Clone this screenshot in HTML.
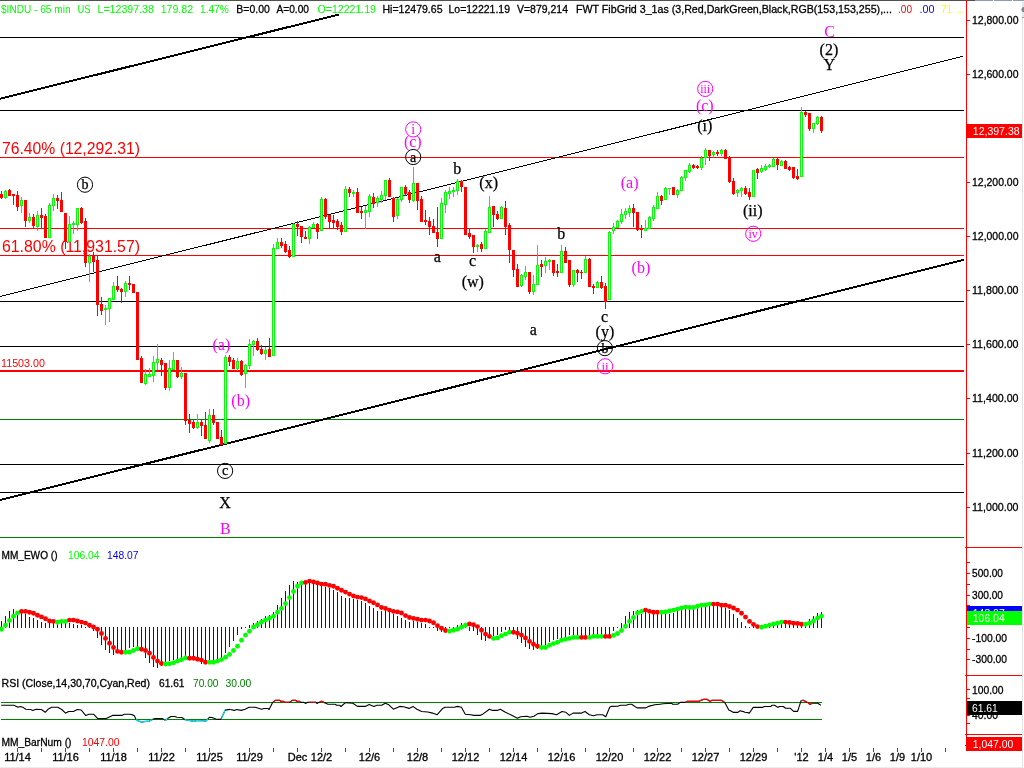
<!DOCTYPE html>
<html><head><meta charset="utf-8"><title>$INDU - 65 min</title>
<style>
html,body{margin:0;padding:0;background:#fff;}
body{width:1024px;height:768px;overflow:hidden;}
svg{display:block;}
</style></head>
<body>
<svg width="1024" height="768" viewBox="0 0 1024 768">
<defs>
<clipPath id="cpcyan"><rect x="136" y="690" width="16.5" height="40"/><rect x="164.5" y="690" width="3.0" height="40"/><rect x="184.7" y="690" width="23.5" height="40"/><rect x="221.3" y="690" width="4.0" height="40"/></clipPath>
<clipPath id="cpred"><rect x="272.8" y="690" width="16.19999999999999" height="40"/><rect x="291.8" y="690" width="8.5" height="40"/><rect x="309.2" y="690" width="6.800000000000011" height="40"/><rect x="320" y="690" width="4.5" height="40"/><rect x="685.5" y="690" width="39.0" height="40"/><rect x="801" y="690" width="11.899999999999977" height="40"/></clipPath>
<clipPath id="cpblue"><rect x="967" y="606" width="55" height="5"/></clipPath>
</defs>
<rect x="0" y="0" width="1024" height="768" fill="#fff"/>
<rect x="0" y="0" width="975" height="1" fill="#505050"/>
<rect x="975" y="0" width="18" height="1" fill="#8d9db0"/>
<rect x="994" y="0" width="18" height="1" fill="#8d9db0"/>
<rect x="1013" y="0" width="11" height="1" fill="#8d9db0"/>
<rect x="0" y="37" width="964" height="1" fill="#000"/>
<rect x="0" y="110" width="964" height="1" fill="#000"/>
<rect x="0" y="301" width="964" height="1" fill="#000"/>
<rect x="0" y="346" width="964" height="1" fill="#000"/>
<rect x="0" y="464" width="964" height="1" fill="#000"/>
<rect x="0" y="492" width="964" height="1" fill="#000"/>
<rect x="0" y="157" width="964" height="1" fill="#ff0000"/>
<rect x="0" y="228" width="964" height="1" fill="#ff0000"/>
<rect x="0" y="255" width="964" height="1" fill="#ff0000"/>
<rect x="0" y="370" width="964" height="2" fill="#ff0000"/>
<rect x="0" y="419" width="964" height="1" fill="#008000"/>
<rect x="0" y="537" width="964" height="1" fill="#008000"/>
<g shape-rendering="crispEdges" stroke="#000" fill="none">
<line x1="0" y1="296.5" x2="963" y2="56.3" stroke-width="1"/>
<line x1="0" y1="500" x2="964" y2="259.8" stroke-width="2"/>
<line x1="0" y1="98.7" x2="339" y2="14.5" stroke-width="2"/>
</g>
<text x="2" y="154" fill="#ff0000" style="font-family:'Liberation Sans',Arial,sans-serif;font-size:16px" textLength="138" lengthAdjust="spacingAndGlyphs">76.40% (12,292.31)</text>
<text x="2" y="252" fill="#ff0000" style="font-family:'Liberation Sans',Arial,sans-serif;font-size:16px" textLength="138" lengthAdjust="spacingAndGlyphs">61.80% (11,931.57)</text>
<text x="1" y="367" fill="#ff0000" style="font-family:'Liberation Sans',Arial,sans-serif;font-size:10.5px" textLength="44" lengthAdjust="spacingAndGlyphs">11503.00</text>
<g shape-rendering="crispEdges">
<rect x="1" y="191" width="1" height="3" fill="#ff0000"/>
<rect x="1" y="198" width="1" height="1" fill="#ff0000"/>
<rect x="0" y="194" width="3" height="4" fill="#ff0000"/>
<rect x="5" y="190" width="1" height="1" fill="#00ff00"/>
<rect x="5" y="198" width="1" height="1" fill="#00ff00"/>
<rect x="4" y="191" width="3" height="7" fill="#00ff00"/>
<rect x="5" y="192" width="1" height="5" fill="#fff"/>
<rect x="9" y="189" width="1" height="1" fill="#ff0000"/>
<rect x="8" y="190" width="3" height="6" fill="#ff0000"/>
<rect x="13" y="196" width="1" height="9" fill="#ff0000"/>
<rect x="12" y="194" width="3" height="2" fill="#ff0000"/>
<rect x="17" y="191" width="1" height="4" fill="#ff0000"/>
<rect x="17" y="207" width="1" height="4" fill="#ff0000"/>
<rect x="16" y="195" width="3" height="12" fill="#ff0000"/>
<rect x="21" y="197" width="1" height="3" fill="#00ff00"/>
<rect x="21" y="206" width="1" height="7" fill="#00ff00"/>
<rect x="20" y="200" width="3" height="6" fill="#00ff00"/>
<rect x="21" y="201" width="1" height="4" fill="#fff"/>
<rect x="25" y="221" width="1" height="6" fill="#ff0000"/>
<rect x="24" y="200" width="3" height="21" fill="#ff0000"/>
<rect x="29" y="213" width="1" height="4" fill="#00ff00"/>
<rect x="29" y="221" width="1" height="2" fill="#00ff00"/>
<rect x="28" y="217" width="3" height="4" fill="#00ff00"/>
<rect x="29" y="218" width="1" height="2" fill="#fff"/>
<rect x="33" y="214" width="1" height="3" fill="#ff0000"/>
<rect x="33" y="226" width="1" height="2" fill="#ff0000"/>
<rect x="32" y="217" width="3" height="9" fill="#ff0000"/>
<rect x="37" y="211" width="1" height="4" fill="#00ff00"/>
<rect x="37" y="227" width="1" height="4" fill="#00ff00"/>
<rect x="36" y="215" width="3" height="12" fill="#00ff00"/>
<rect x="37" y="216" width="1" height="10" fill="#fff"/>
<rect x="41" y="208" width="1" height="7" fill="#ff0000"/>
<rect x="41" y="218" width="1" height="11" fill="#ff0000"/>
<rect x="40" y="215" width="3" height="3" fill="#ff0000"/>
<rect x="45" y="214" width="1" height="2" fill="#ff0000"/>
<rect x="44" y="216" width="3" height="22" fill="#ff0000"/>
<rect x="49" y="203" width="1" height="2" fill="#00ff00"/>
<rect x="48" y="205" width="3" height="33" fill="#00ff00"/>
<rect x="49" y="206" width="1" height="31" fill="#fff"/>
<rect x="53" y="194" width="1" height="4" fill="#00ff00"/>
<rect x="53" y="206" width="1" height="5" fill="#00ff00"/>
<rect x="52" y="198" width="3" height="8" fill="#00ff00"/>
<rect x="53" y="199" width="1" height="6" fill="#fff"/>
<rect x="57" y="195" width="1" height="3" fill="#ff0000"/>
<rect x="57" y="201" width="1" height="8" fill="#ff0000"/>
<rect x="56" y="198" width="3" height="3" fill="#ff0000"/>
<rect x="61" y="192" width="1" height="8" fill="#ff0000"/>
<rect x="60" y="200" width="3" height="12" fill="#ff0000"/>
<rect x="65" y="242" width="1" height="7" fill="#ff0000"/>
<rect x="64" y="213" width="3" height="29" fill="#ff0000"/>
<rect x="69" y="216" width="1" height="8" fill="#00ff00"/>
<rect x="69" y="242" width="1" height="1" fill="#00ff00"/>
<rect x="68" y="224" width="3" height="18" fill="#00ff00"/>
<rect x="69" y="225" width="1" height="16" fill="#fff"/>
<rect x="73" y="221" width="1" height="2" fill="#00ff00"/>
<rect x="73" y="225" width="1" height="9" fill="#00ff00"/>
<rect x="72" y="223" width="3" height="2" fill="#00ff00"/>
<rect x="77" y="225" width="1" height="6" fill="#00ff00"/>
<rect x="76" y="208" width="3" height="17" fill="#00ff00"/>
<rect x="77" y="209" width="1" height="15" fill="#fff"/>
<rect x="81" y="207" width="1" height="1" fill="#ff0000"/>
<rect x="81" y="223" width="1" height="1" fill="#ff0000"/>
<rect x="80" y="208" width="3" height="15" fill="#ff0000"/>
<rect x="85" y="218" width="1" height="3" fill="#ff0000"/>
<rect x="85" y="263" width="1" height="4" fill="#ff0000"/>
<rect x="84" y="221" width="3" height="42" fill="#ff0000"/>
<rect x="89" y="254" width="1" height="2" fill="#00ff00"/>
<rect x="89" y="263" width="1" height="19" fill="#00ff00"/>
<rect x="88" y="256" width="3" height="7" fill="#00ff00"/>
<rect x="89" y="257" width="1" height="5" fill="#fff"/>
<rect x="93" y="252" width="1" height="4" fill="#ff0000"/>
<rect x="93" y="262" width="1" height="10" fill="#ff0000"/>
<rect x="92" y="256" width="3" height="6" fill="#ff0000"/>
<rect x="97" y="256" width="1" height="4" fill="#ff0000"/>
<rect x="97" y="305" width="1" height="11" fill="#ff0000"/>
<rect x="96" y="260" width="3" height="45" fill="#ff0000"/>
<rect x="101" y="297" width="1" height="7" fill="#ff0000"/>
<rect x="101" y="311" width="1" height="4" fill="#ff0000"/>
<rect x="100" y="304" width="3" height="7" fill="#ff0000"/>
<rect x="105" y="305" width="1" height="3" fill="#00ff00"/>
<rect x="105" y="310" width="1" height="15" fill="#00ff00"/>
<rect x="104" y="308" width="3" height="2" fill="#00ff00"/>
<rect x="109" y="309" width="1" height="13" fill="#00ff00"/>
<rect x="108" y="298" width="3" height="11" fill="#00ff00"/>
<rect x="109" y="299" width="1" height="9" fill="#fff"/>
<rect x="113" y="282" width="1" height="4" fill="#00ff00"/>
<rect x="112" y="286" width="3" height="14" fill="#00ff00"/>
<rect x="113" y="287" width="1" height="12" fill="#fff"/>
<rect x="117" y="276" width="1" height="10" fill="#ff0000"/>
<rect x="117" y="290" width="1" height="2" fill="#ff0000"/>
<rect x="116" y="286" width="3" height="4" fill="#ff0000"/>
<rect x="121" y="288" width="1" height="1" fill="#ff0000"/>
<rect x="121" y="292" width="1" height="11" fill="#ff0000"/>
<rect x="120" y="289" width="3" height="3" fill="#ff0000"/>
<rect x="125" y="281" width="1" height="2" fill="#00ff00"/>
<rect x="125" y="292" width="1" height="5" fill="#00ff00"/>
<rect x="124" y="283" width="3" height="9" fill="#00ff00"/>
<rect x="125" y="284" width="1" height="7" fill="#fff"/>
<rect x="129" y="276" width="1" height="7" fill="#ff0000"/>
<rect x="129" y="285" width="1" height="5" fill="#ff0000"/>
<rect x="128" y="283" width="3" height="2" fill="#ff0000"/>
<rect x="132" y="284" width="3" height="9" fill="#ff0000"/>
<rect x="136" y="292" width="3" height="68" fill="#ff0000"/>
<rect x="141" y="356" width="1" height="2" fill="#ff0000"/>
<rect x="140" y="358" width="3" height="25" fill="#ff0000"/>
<rect x="145" y="369" width="1" height="5" fill="#00ff00"/>
<rect x="145" y="384" width="1" height="1" fill="#00ff00"/>
<rect x="144" y="374" width="3" height="10" fill="#00ff00"/>
<rect x="145" y="375" width="1" height="8" fill="#fff"/>
<rect x="149" y="368" width="1" height="6" fill="#00ff00"/>
<rect x="148" y="374" width="3" height="3" fill="#00ff00"/>
<rect x="149" y="375" width="1" height="1" fill="#fff"/>
<rect x="153" y="356" width="1" height="6" fill="#00ff00"/>
<rect x="153" y="376" width="1" height="6" fill="#00ff00"/>
<rect x="152" y="362" width="3" height="14" fill="#00ff00"/>
<rect x="153" y="363" width="1" height="12" fill="#fff"/>
<rect x="157" y="344" width="1" height="15" fill="#00ff00"/>
<rect x="157" y="363" width="1" height="7" fill="#00ff00"/>
<rect x="156" y="359" width="3" height="4" fill="#00ff00"/>
<rect x="157" y="360" width="1" height="2" fill="#fff"/>
<rect x="161" y="358" width="1" height="2" fill="#ff0000"/>
<rect x="161" y="365" width="1" height="11" fill="#ff0000"/>
<rect x="160" y="360" width="3" height="5" fill="#ff0000"/>
<rect x="165" y="388" width="1" height="2" fill="#ff0000"/>
<rect x="164" y="363" width="3" height="25" fill="#ff0000"/>
<rect x="169" y="360" width="1" height="8" fill="#00ff00"/>
<rect x="169" y="388" width="1" height="3" fill="#00ff00"/>
<rect x="168" y="368" width="3" height="20" fill="#00ff00"/>
<rect x="169" y="369" width="1" height="18" fill="#fff"/>
<rect x="173" y="352" width="1" height="8" fill="#00ff00"/>
<rect x="172" y="360" width="3" height="10" fill="#00ff00"/>
<rect x="173" y="361" width="1" height="8" fill="#fff"/>
<rect x="177" y="377" width="1" height="1" fill="#ff0000"/>
<rect x="176" y="360" width="3" height="17" fill="#ff0000"/>
<rect x="181" y="367" width="1" height="6" fill="#00ff00"/>
<rect x="181" y="377" width="1" height="2" fill="#00ff00"/>
<rect x="180" y="373" width="3" height="4" fill="#00ff00"/>
<rect x="181" y="374" width="1" height="2" fill="#fff"/>
<rect x="185" y="421" width="1" height="4" fill="#ff0000"/>
<rect x="184" y="373" width="3" height="48" fill="#ff0000"/>
<rect x="189" y="414" width="1" height="6" fill="#ff0000"/>
<rect x="189" y="424" width="1" height="9" fill="#ff0000"/>
<rect x="188" y="420" width="3" height="4" fill="#ff0000"/>
<rect x="193" y="420" width="1" height="2" fill="#ff0000"/>
<rect x="193" y="428" width="1" height="1" fill="#ff0000"/>
<rect x="192" y="422" width="3" height="6" fill="#ff0000"/>
<rect x="197" y="414" width="1" height="8" fill="#00ff00"/>
<rect x="197" y="428" width="1" height="1" fill="#00ff00"/>
<rect x="196" y="422" width="3" height="6" fill="#00ff00"/>
<rect x="197" y="423" width="1" height="4" fill="#fff"/>
<rect x="201" y="420" width="1" height="2" fill="#ff0000"/>
<rect x="201" y="426" width="1" height="10" fill="#ff0000"/>
<rect x="200" y="422" width="3" height="4" fill="#ff0000"/>
<rect x="205" y="412" width="1" height="13" fill="#ff0000"/>
<rect x="204" y="425" width="3" height="14" fill="#ff0000"/>
<rect x="209" y="409" width="1" height="6" fill="#00ff00"/>
<rect x="209" y="441" width="1" height="2" fill="#00ff00"/>
<rect x="208" y="415" width="3" height="26" fill="#00ff00"/>
<rect x="209" y="416" width="1" height="24" fill="#fff"/>
<rect x="213" y="409" width="1" height="6" fill="#ff0000"/>
<rect x="213" y="423" width="1" height="2" fill="#ff0000"/>
<rect x="212" y="415" width="3" height="8" fill="#ff0000"/>
<rect x="216" y="422" width="3" height="17" fill="#ff0000"/>
<rect x="221" y="430" width="1" height="7" fill="#ff0000"/>
<rect x="220" y="437" width="3" height="8" fill="#ff0000"/>
<rect x="225" y="355" width="1" height="2" fill="#00ff00"/>
<rect x="224" y="357" width="3" height="87" fill="#00ff00"/>
<rect x="225" y="358" width="1" height="85" fill="#fff"/>
<rect x="229" y="355" width="1" height="2" fill="#ff0000"/>
<rect x="229" y="362" width="1" height="4" fill="#ff0000"/>
<rect x="228" y="357" width="3" height="5" fill="#ff0000"/>
<rect x="233" y="358" width="1" height="2" fill="#ff0000"/>
<rect x="232" y="360" width="3" height="9" fill="#ff0000"/>
<rect x="237" y="358" width="1" height="3" fill="#00ff00"/>
<rect x="237" y="369" width="1" height="2" fill="#00ff00"/>
<rect x="236" y="361" width="3" height="8" fill="#00ff00"/>
<rect x="237" y="362" width="1" height="6" fill="#fff"/>
<rect x="241" y="360" width="1" height="1" fill="#ff0000"/>
<rect x="241" y="375" width="1" height="1" fill="#ff0000"/>
<rect x="240" y="361" width="3" height="14" fill="#ff0000"/>
<rect x="245" y="364" width="1" height="1" fill="#00ff00"/>
<rect x="245" y="374" width="1" height="14" fill="#00ff00"/>
<rect x="244" y="365" width="3" height="9" fill="#00ff00"/>
<rect x="245" y="366" width="1" height="7" fill="#fff"/>
<rect x="249" y="339" width="1" height="5" fill="#00ff00"/>
<rect x="249" y="366" width="1" height="3" fill="#00ff00"/>
<rect x="248" y="344" width="3" height="22" fill="#00ff00"/>
<rect x="249" y="345" width="1" height="20" fill="#fff"/>
<rect x="253" y="340" width="1" height="1" fill="#00ff00"/>
<rect x="253" y="345" width="1" height="11" fill="#00ff00"/>
<rect x="252" y="341" width="3" height="4" fill="#00ff00"/>
<rect x="253" y="342" width="1" height="2" fill="#fff"/>
<rect x="257" y="338" width="1" height="3" fill="#ff0000"/>
<rect x="257" y="350" width="1" height="1" fill="#ff0000"/>
<rect x="256" y="341" width="3" height="9" fill="#ff0000"/>
<rect x="261" y="345" width="1" height="4" fill="#ff0000"/>
<rect x="261" y="354" width="1" height="1" fill="#ff0000"/>
<rect x="260" y="349" width="3" height="5" fill="#ff0000"/>
<rect x="265" y="347" width="1" height="3" fill="#00ff00"/>
<rect x="265" y="354" width="1" height="6" fill="#00ff00"/>
<rect x="264" y="350" width="3" height="4" fill="#00ff00"/>
<rect x="265" y="351" width="1" height="2" fill="#fff"/>
<rect x="269" y="338" width="1" height="11" fill="#ff0000"/>
<rect x="268" y="349" width="3" height="8" fill="#ff0000"/>
<rect x="273" y="244" width="1" height="4" fill="#00ff00"/>
<rect x="272" y="248" width="3" height="108" fill="#00ff00"/>
<rect x="273" y="249" width="1" height="106" fill="#fff"/>
<rect x="277" y="238" width="1" height="4" fill="#00ff00"/>
<rect x="276" y="242" width="3" height="7" fill="#00ff00"/>
<rect x="277" y="243" width="1" height="5" fill="#fff"/>
<rect x="281" y="238" width="1" height="4" fill="#ff0000"/>
<rect x="281" y="246" width="1" height="2" fill="#ff0000"/>
<rect x="280" y="242" width="3" height="4" fill="#ff0000"/>
<rect x="285" y="241" width="1" height="3" fill="#ff0000"/>
<rect x="285" y="252" width="1" height="1" fill="#ff0000"/>
<rect x="284" y="244" width="3" height="8" fill="#ff0000"/>
<rect x="289" y="246" width="1" height="4" fill="#ff0000"/>
<rect x="289" y="257" width="1" height="1" fill="#ff0000"/>
<rect x="288" y="250" width="3" height="7" fill="#ff0000"/>
<rect x="293" y="223" width="1" height="1" fill="#00ff00"/>
<rect x="292" y="224" width="3" height="33" fill="#00ff00"/>
<rect x="293" y="225" width="1" height="31" fill="#fff"/>
<rect x="297" y="221" width="1" height="3" fill="#ff0000"/>
<rect x="297" y="227" width="1" height="9" fill="#ff0000"/>
<rect x="296" y="224" width="3" height="3" fill="#ff0000"/>
<rect x="301" y="237" width="1" height="6" fill="#ff0000"/>
<rect x="300" y="226" width="3" height="11" fill="#ff0000"/>
<rect x="305" y="231" width="1" height="6" fill="#ff0000"/>
<rect x="304" y="237" width="3" height="2" fill="#ff0000"/>
<rect x="309" y="226" width="1" height="1" fill="#00ff00"/>
<rect x="309" y="239" width="1" height="5" fill="#00ff00"/>
<rect x="308" y="227" width="3" height="12" fill="#00ff00"/>
<rect x="309" y="228" width="1" height="10" fill="#fff"/>
<rect x="313" y="222" width="1" height="2" fill="#00ff00"/>
<rect x="312" y="224" width="3" height="4" fill="#00ff00"/>
<rect x="313" y="225" width="1" height="2" fill="#fff"/>
<rect x="317" y="223" width="1" height="1" fill="#ff0000"/>
<rect x="317" y="232" width="1" height="7" fill="#ff0000"/>
<rect x="316" y="224" width="3" height="8" fill="#ff0000"/>
<rect x="321" y="197" width="1" height="2" fill="#00ff00"/>
<rect x="320" y="199" width="3" height="32" fill="#00ff00"/>
<rect x="321" y="200" width="1" height="30" fill="#fff"/>
<rect x="325" y="198" width="1" height="1" fill="#ff0000"/>
<rect x="325" y="217" width="1" height="2" fill="#ff0000"/>
<rect x="324" y="199" width="3" height="18" fill="#ff0000"/>
<rect x="329" y="222" width="1" height="7" fill="#ff0000"/>
<rect x="328" y="215" width="3" height="7" fill="#ff0000"/>
<rect x="333" y="215" width="1" height="5" fill="#ff0000"/>
<rect x="333" y="223" width="1" height="6" fill="#ff0000"/>
<rect x="332" y="220" width="3" height="3" fill="#ff0000"/>
<rect x="337" y="219" width="1" height="2" fill="#ff0000"/>
<rect x="337" y="227" width="1" height="3" fill="#ff0000"/>
<rect x="336" y="221" width="3" height="6" fill="#ff0000"/>
<rect x="341" y="222" width="1" height="3" fill="#ff0000"/>
<rect x="341" y="232" width="1" height="3" fill="#ff0000"/>
<rect x="340" y="225" width="3" height="7" fill="#ff0000"/>
<rect x="345" y="186" width="1" height="3" fill="#00ff00"/>
<rect x="344" y="189" width="3" height="43" fill="#00ff00"/>
<rect x="345" y="190" width="1" height="41" fill="#fff"/>
<rect x="349" y="187" width="1" height="2" fill="#ff0000"/>
<rect x="349" y="193" width="1" height="4" fill="#ff0000"/>
<rect x="348" y="189" width="3" height="4" fill="#ff0000"/>
<rect x="353" y="190" width="1" height="2" fill="#00ff00"/>
<rect x="353" y="194" width="1" height="3" fill="#00ff00"/>
<rect x="352" y="192" width="3" height="2" fill="#00ff00"/>
<rect x="357" y="188" width="1" height="4" fill="#ff0000"/>
<rect x="356" y="192" width="3" height="21" fill="#ff0000"/>
<rect x="361" y="207" width="1" height="4" fill="#ff0000"/>
<rect x="361" y="213" width="1" height="6" fill="#ff0000"/>
<rect x="360" y="211" width="3" height="2" fill="#ff0000"/>
<rect x="365" y="206" width="1" height="4" fill="#00ff00"/>
<rect x="365" y="213" width="1" height="16" fill="#00ff00"/>
<rect x="364" y="210" width="3" height="3" fill="#00ff00"/>
<rect x="365" y="211" width="1" height="1" fill="#fff"/>
<rect x="369" y="194" width="1" height="2" fill="#00ff00"/>
<rect x="369" y="212" width="1" height="5" fill="#00ff00"/>
<rect x="368" y="196" width="3" height="16" fill="#00ff00"/>
<rect x="369" y="197" width="1" height="14" fill="#fff"/>
<rect x="373" y="193" width="1" height="4" fill="#ff0000"/>
<rect x="373" y="204" width="1" height="4" fill="#ff0000"/>
<rect x="372" y="197" width="3" height="7" fill="#ff0000"/>
<rect x="377" y="196" width="1" height="2" fill="#00ff00"/>
<rect x="377" y="203" width="1" height="4" fill="#00ff00"/>
<rect x="376" y="198" width="3" height="5" fill="#00ff00"/>
<rect x="377" y="199" width="1" height="3" fill="#fff"/>
<rect x="381" y="191" width="1" height="4" fill="#00ff00"/>
<rect x="381" y="200" width="1" height="3" fill="#00ff00"/>
<rect x="380" y="195" width="3" height="5" fill="#00ff00"/>
<rect x="381" y="196" width="1" height="3" fill="#fff"/>
<rect x="385" y="196" width="1" height="4" fill="#00ff00"/>
<rect x="384" y="180" width="3" height="16" fill="#00ff00"/>
<rect x="385" y="181" width="1" height="14" fill="#fff"/>
<rect x="389" y="178" width="1" height="2" fill="#ff0000"/>
<rect x="388" y="180" width="3" height="17" fill="#ff0000"/>
<rect x="393" y="197" width="1" height="1" fill="#ff0000"/>
<rect x="393" y="217" width="1" height="5" fill="#ff0000"/>
<rect x="392" y="198" width="3" height="19" fill="#ff0000"/>
<rect x="397" y="198" width="1" height="1" fill="#00ff00"/>
<rect x="397" y="216" width="1" height="3" fill="#00ff00"/>
<rect x="396" y="199" width="3" height="17" fill="#00ff00"/>
<rect x="397" y="200" width="1" height="15" fill="#fff"/>
<rect x="401" y="200" width="1" height="2" fill="#00ff00"/>
<rect x="400" y="187" width="3" height="13" fill="#00ff00"/>
<rect x="401" y="188" width="1" height="11" fill="#fff"/>
<rect x="405" y="185" width="1" height="2" fill="#ff0000"/>
<rect x="405" y="194" width="1" height="2" fill="#ff0000"/>
<rect x="404" y="187" width="3" height="7" fill="#ff0000"/>
<rect x="409" y="190" width="1" height="2" fill="#ff0000"/>
<rect x="409" y="200" width="1" height="3" fill="#ff0000"/>
<rect x="408" y="192" width="3" height="8" fill="#ff0000"/>
<rect x="413" y="167" width="1" height="16" fill="#00ff00"/>
<rect x="413" y="201" width="1" height="1" fill="#00ff00"/>
<rect x="412" y="183" width="3" height="18" fill="#00ff00"/>
<rect x="413" y="184" width="1" height="16" fill="#fff"/>
<rect x="417" y="201" width="1" height="9" fill="#ff0000"/>
<rect x="416" y="183" width="3" height="18" fill="#ff0000"/>
<rect x="421" y="196" width="1" height="3" fill="#ff0000"/>
<rect x="420" y="199" width="3" height="23" fill="#ff0000"/>
<rect x="425" y="210" width="1" height="10" fill="#ff0000"/>
<rect x="425" y="222" width="1" height="3" fill="#ff0000"/>
<rect x="424" y="220" width="3" height="2" fill="#ff0000"/>
<rect x="429" y="217" width="1" height="4" fill="#ff0000"/>
<rect x="429" y="227" width="1" height="8" fill="#ff0000"/>
<rect x="428" y="221" width="3" height="6" fill="#ff0000"/>
<rect x="433" y="219" width="1" height="7" fill="#ff0000"/>
<rect x="432" y="226" width="3" height="7" fill="#ff0000"/>
<rect x="437" y="207" width="1" height="25" fill="#ff0000"/>
<rect x="437" y="239" width="1" height="8" fill="#ff0000"/>
<rect x="436" y="232" width="3" height="7" fill="#ff0000"/>
<rect x="441" y="198" width="1" height="5" fill="#00ff00"/>
<rect x="440" y="203" width="3" height="36" fill="#00ff00"/>
<rect x="441" y="204" width="1" height="34" fill="#fff"/>
<rect x="445" y="190" width="1" height="2" fill="#00ff00"/>
<rect x="445" y="205" width="1" height="8" fill="#00ff00"/>
<rect x="444" y="192" width="3" height="13" fill="#00ff00"/>
<rect x="445" y="193" width="1" height="11" fill="#fff"/>
<rect x="449" y="187" width="1" height="4" fill="#00ff00"/>
<rect x="449" y="194" width="1" height="5" fill="#00ff00"/>
<rect x="448" y="191" width="3" height="3" fill="#00ff00"/>
<rect x="449" y="192" width="1" height="1" fill="#fff"/>
<rect x="453" y="187" width="1" height="3" fill="#00ff00"/>
<rect x="453" y="192" width="1" height="5" fill="#00ff00"/>
<rect x="452" y="190" width="3" height="2" fill="#00ff00"/>
<rect x="457" y="179" width="1" height="2" fill="#00ff00"/>
<rect x="457" y="191" width="1" height="4" fill="#00ff00"/>
<rect x="456" y="181" width="3" height="10" fill="#00ff00"/>
<rect x="457" y="182" width="1" height="8" fill="#fff"/>
<rect x="461" y="180" width="1" height="1" fill="#ff0000"/>
<rect x="461" y="187" width="1" height="5" fill="#ff0000"/>
<rect x="460" y="181" width="3" height="6" fill="#ff0000"/>
<rect x="464" y="187" width="3" height="48" fill="#ff0000"/>
<rect x="469" y="229" width="1" height="4" fill="#ff0000"/>
<rect x="469" y="237" width="1" height="2" fill="#ff0000"/>
<rect x="468" y="233" width="3" height="4" fill="#ff0000"/>
<rect x="473" y="247" width="1" height="6" fill="#ff0000"/>
<rect x="472" y="235" width="3" height="12" fill="#ff0000"/>
<rect x="477" y="244" width="1" height="1" fill="#00ff00"/>
<rect x="477" y="247" width="1" height="5" fill="#00ff00"/>
<rect x="476" y="245" width="3" height="2" fill="#00ff00"/>
<rect x="481" y="242" width="1" height="2" fill="#ff0000"/>
<rect x="481" y="249" width="1" height="3" fill="#ff0000"/>
<rect x="480" y="244" width="3" height="5" fill="#ff0000"/>
<rect x="485" y="229" width="1" height="2" fill="#00ff00"/>
<rect x="484" y="231" width="3" height="18" fill="#00ff00"/>
<rect x="485" y="232" width="1" height="16" fill="#fff"/>
<rect x="489" y="196" width="1" height="11" fill="#00ff00"/>
<rect x="488" y="207" width="3" height="26" fill="#00ff00"/>
<rect x="489" y="208" width="1" height="24" fill="#fff"/>
<rect x="493" y="215" width="1" height="12" fill="#ff0000"/>
<rect x="492" y="206" width="3" height="9" fill="#ff0000"/>
<rect x="497" y="211" width="1" height="3" fill="#ff0000"/>
<rect x="497" y="219" width="1" height="1" fill="#ff0000"/>
<rect x="496" y="214" width="3" height="5" fill="#ff0000"/>
<rect x="501" y="206" width="1" height="1" fill="#00ff00"/>
<rect x="500" y="207" width="3" height="12" fill="#00ff00"/>
<rect x="501" y="208" width="1" height="10" fill="#fff"/>
<rect x="505" y="201" width="1" height="7" fill="#ff0000"/>
<rect x="505" y="227" width="1" height="8" fill="#ff0000"/>
<rect x="504" y="208" width="3" height="19" fill="#ff0000"/>
<rect x="509" y="223" width="1" height="2" fill="#ff0000"/>
<rect x="509" y="250" width="1" height="13" fill="#ff0000"/>
<rect x="508" y="225" width="3" height="25" fill="#ff0000"/>
<rect x="513" y="270" width="1" height="7" fill="#ff0000"/>
<rect x="512" y="250" width="3" height="20" fill="#ff0000"/>
<rect x="517" y="264" width="1" height="5" fill="#ff0000"/>
<rect x="516" y="269" width="3" height="18" fill="#ff0000"/>
<rect x="521" y="274" width="1" height="1" fill="#00ff00"/>
<rect x="521" y="286" width="1" height="1" fill="#00ff00"/>
<rect x="520" y="275" width="3" height="11" fill="#00ff00"/>
<rect x="521" y="276" width="1" height="9" fill="#fff"/>
<rect x="525" y="266" width="1" height="6" fill="#00ff00"/>
<rect x="525" y="277" width="1" height="3" fill="#00ff00"/>
<rect x="524" y="272" width="3" height="5" fill="#00ff00"/>
<rect x="525" y="273" width="1" height="3" fill="#fff"/>
<rect x="529" y="292" width="1" height="2" fill="#ff0000"/>
<rect x="528" y="272" width="3" height="20" fill="#ff0000"/>
<rect x="533" y="275" width="1" height="9" fill="#00ff00"/>
<rect x="533" y="292" width="1" height="3" fill="#00ff00"/>
<rect x="532" y="284" width="3" height="8" fill="#00ff00"/>
<rect x="533" y="285" width="1" height="6" fill="#fff"/>
<rect x="537" y="245" width="1" height="20" fill="#00ff00"/>
<rect x="536" y="265" width="3" height="20" fill="#00ff00"/>
<rect x="537" y="266" width="1" height="18" fill="#fff"/>
<rect x="541" y="260" width="1" height="4" fill="#ff0000"/>
<rect x="541" y="267" width="1" height="10" fill="#ff0000"/>
<rect x="540" y="264" width="3" height="3" fill="#ff0000"/>
<rect x="545" y="257" width="1" height="4" fill="#00ff00"/>
<rect x="545" y="266" width="1" height="7" fill="#00ff00"/>
<rect x="544" y="261" width="3" height="5" fill="#00ff00"/>
<rect x="545" y="262" width="1" height="3" fill="#fff"/>
<rect x="549" y="259" width="1" height="1" fill="#00ff00"/>
<rect x="549" y="262" width="1" height="8" fill="#00ff00"/>
<rect x="548" y="260" width="3" height="2" fill="#00ff00"/>
<rect x="553" y="273" width="1" height="3" fill="#ff0000"/>
<rect x="552" y="260" width="3" height="13" fill="#ff0000"/>
<rect x="557" y="264" width="1" height="7" fill="#ff0000"/>
<rect x="557" y="273" width="1" height="4" fill="#ff0000"/>
<rect x="556" y="271" width="3" height="2" fill="#ff0000"/>
<rect x="561" y="245" width="1" height="6" fill="#00ff00"/>
<rect x="560" y="251" width="3" height="22" fill="#00ff00"/>
<rect x="561" y="252" width="1" height="20" fill="#fff"/>
<rect x="565" y="247" width="1" height="4" fill="#ff0000"/>
<rect x="564" y="251" width="3" height="12" fill="#ff0000"/>
<rect x="569" y="285" width="1" height="2" fill="#ff0000"/>
<rect x="568" y="260" width="3" height="25" fill="#ff0000"/>
<rect x="573" y="285" width="1" height="2" fill="#00ff00"/>
<rect x="572" y="270" width="3" height="15" fill="#00ff00"/>
<rect x="573" y="271" width="1" height="13" fill="#fff"/>
<rect x="577" y="269" width="1" height="1" fill="#ff0000"/>
<rect x="577" y="273" width="1" height="9" fill="#ff0000"/>
<rect x="576" y="270" width="3" height="3" fill="#ff0000"/>
<rect x="581" y="270" width="1" height="2" fill="#ff0000"/>
<rect x="581" y="273" width="1" height="6" fill="#ff0000"/>
<rect x="580" y="272" width="3" height="1" fill="#ff0000"/>
<rect x="585" y="256" width="1" height="3" fill="#00ff00"/>
<rect x="584" y="259" width="3" height="14" fill="#00ff00"/>
<rect x="585" y="260" width="1" height="12" fill="#fff"/>
<rect x="589" y="258" width="1" height="1" fill="#ff0000"/>
<rect x="588" y="259" width="3" height="28" fill="#ff0000"/>
<rect x="593" y="284" width="1" height="2" fill="#ff0000"/>
<rect x="593" y="288" width="1" height="6" fill="#ff0000"/>
<rect x="592" y="286" width="3" height="2" fill="#ff0000"/>
<rect x="597" y="281" width="1" height="1" fill="#00ff00"/>
<rect x="596" y="282" width="3" height="6" fill="#00ff00"/>
<rect x="597" y="283" width="1" height="4" fill="#fff"/>
<rect x="601" y="276" width="1" height="6" fill="#ff0000"/>
<rect x="601" y="288" width="1" height="1" fill="#ff0000"/>
<rect x="600" y="282" width="3" height="6" fill="#ff0000"/>
<rect x="605" y="283" width="1" height="3" fill="#ff0000"/>
<rect x="605" y="302" width="1" height="7" fill="#ff0000"/>
<rect x="604" y="286" width="3" height="16" fill="#ff0000"/>
<rect x="609" y="231" width="1" height="1" fill="#00ff00"/>
<rect x="608" y="232" width="3" height="68" fill="#00ff00"/>
<rect x="609" y="233" width="1" height="66" fill="#fff"/>
<rect x="613" y="223" width="1" height="4" fill="#00ff00"/>
<rect x="613" y="231" width="1" height="3" fill="#00ff00"/>
<rect x="612" y="227" width="3" height="4" fill="#00ff00"/>
<rect x="613" y="228" width="1" height="2" fill="#fff"/>
<rect x="617" y="220" width="1" height="1" fill="#00ff00"/>
<rect x="616" y="221" width="3" height="7" fill="#00ff00"/>
<rect x="617" y="222" width="1" height="5" fill="#fff"/>
<rect x="621" y="209" width="1" height="5" fill="#00ff00"/>
<rect x="621" y="222" width="1" height="2" fill="#00ff00"/>
<rect x="620" y="214" width="3" height="8" fill="#00ff00"/>
<rect x="621" y="215" width="1" height="6" fill="#fff"/>
<rect x="625" y="208" width="1" height="3" fill="#00ff00"/>
<rect x="625" y="215" width="1" height="4" fill="#00ff00"/>
<rect x="624" y="211" width="3" height="4" fill="#00ff00"/>
<rect x="625" y="212" width="1" height="2" fill="#fff"/>
<rect x="629" y="205" width="1" height="3" fill="#00ff00"/>
<rect x="629" y="213" width="1" height="4" fill="#00ff00"/>
<rect x="628" y="208" width="3" height="5" fill="#00ff00"/>
<rect x="629" y="209" width="1" height="3" fill="#fff"/>
<rect x="633" y="204" width="1" height="4" fill="#ff0000"/>
<rect x="633" y="213" width="1" height="14" fill="#ff0000"/>
<rect x="632" y="208" width="3" height="5" fill="#ff0000"/>
<rect x="637" y="230" width="1" height="1" fill="#ff0000"/>
<rect x="636" y="212" width="3" height="18" fill="#ff0000"/>
<rect x="641" y="225" width="1" height="3" fill="#ff0000"/>
<rect x="641" y="230" width="1" height="8" fill="#ff0000"/>
<rect x="640" y="228" width="3" height="2" fill="#ff0000"/>
<rect x="645" y="220" width="1" height="8" fill="#00ff00"/>
<rect x="644" y="228" width="3" height="3" fill="#00ff00"/>
<rect x="645" y="229" width="1" height="1" fill="#fff"/>
<rect x="649" y="216" width="1" height="1" fill="#00ff00"/>
<rect x="648" y="217" width="3" height="12" fill="#00ff00"/>
<rect x="649" y="218" width="1" height="10" fill="#fff"/>
<rect x="653" y="205" width="1" height="2" fill="#00ff00"/>
<rect x="653" y="219" width="1" height="2" fill="#00ff00"/>
<rect x="652" y="207" width="3" height="12" fill="#00ff00"/>
<rect x="653" y="208" width="1" height="10" fill="#fff"/>
<rect x="657" y="192" width="1" height="4" fill="#00ff00"/>
<rect x="656" y="196" width="3" height="13" fill="#00ff00"/>
<rect x="657" y="197" width="1" height="11" fill="#fff"/>
<rect x="661" y="195" width="1" height="1" fill="#ff0000"/>
<rect x="661" y="201" width="1" height="4" fill="#ff0000"/>
<rect x="660" y="196" width="3" height="5" fill="#ff0000"/>
<rect x="665" y="187" width="1" height="1" fill="#00ff00"/>
<rect x="664" y="188" width="3" height="12" fill="#00ff00"/>
<rect x="665" y="189" width="1" height="10" fill="#fff"/>
<rect x="669" y="189" width="1" height="6" fill="#00ff00"/>
<rect x="668" y="188" width="3" height="1" fill="#00ff00"/>
<rect x="672" y="187" width="3" height="8" fill="#ff0000"/>
<rect x="677" y="189" width="1" height="1" fill="#00ff00"/>
<rect x="677" y="195" width="1" height="3" fill="#00ff00"/>
<rect x="676" y="190" width="3" height="5" fill="#00ff00"/>
<rect x="677" y="191" width="1" height="3" fill="#fff"/>
<rect x="681" y="176" width="1" height="1" fill="#00ff00"/>
<rect x="680" y="177" width="3" height="14" fill="#00ff00"/>
<rect x="681" y="178" width="1" height="12" fill="#fff"/>
<rect x="685" y="178" width="1" height="3" fill="#00ff00"/>
<rect x="684" y="170" width="3" height="8" fill="#00ff00"/>
<rect x="685" y="171" width="1" height="6" fill="#fff"/>
<rect x="689" y="163" width="1" height="2" fill="#00ff00"/>
<rect x="689" y="172" width="1" height="1" fill="#00ff00"/>
<rect x="688" y="165" width="3" height="7" fill="#00ff00"/>
<rect x="689" y="166" width="1" height="5" fill="#fff"/>
<rect x="693" y="164" width="1" height="1" fill="#ff0000"/>
<rect x="693" y="168" width="1" height="1" fill="#ff0000"/>
<rect x="692" y="165" width="3" height="3" fill="#ff0000"/>
<rect x="697" y="165" width="1" height="1" fill="#ff0000"/>
<rect x="697" y="168" width="1" height="1" fill="#ff0000"/>
<rect x="696" y="166" width="3" height="2" fill="#ff0000"/>
<rect x="701" y="156" width="1" height="2" fill="#00ff00"/>
<rect x="701" y="168" width="1" height="2" fill="#00ff00"/>
<rect x="700" y="158" width="3" height="10" fill="#00ff00"/>
<rect x="701" y="159" width="1" height="8" fill="#fff"/>
<rect x="705" y="148" width="1" height="2" fill="#00ff00"/>
<rect x="705" y="158" width="1" height="7" fill="#00ff00"/>
<rect x="704" y="150" width="3" height="8" fill="#00ff00"/>
<rect x="705" y="151" width="1" height="6" fill="#fff"/>
<rect x="709" y="156" width="1" height="5" fill="#ff0000"/>
<rect x="708" y="150" width="3" height="6" fill="#ff0000"/>
<rect x="713" y="151" width="1" height="1" fill="#00ff00"/>
<rect x="713" y="155" width="1" height="3" fill="#00ff00"/>
<rect x="712" y="152" width="3" height="3" fill="#00ff00"/>
<rect x="713" y="153" width="1" height="1" fill="#fff"/>
<rect x="717" y="150" width="1" height="2" fill="#ff0000"/>
<rect x="717" y="154" width="1" height="2" fill="#ff0000"/>
<rect x="716" y="152" width="3" height="2" fill="#ff0000"/>
<rect x="721" y="149" width="1" height="1" fill="#00ff00"/>
<rect x="721" y="154" width="1" height="2" fill="#00ff00"/>
<rect x="720" y="150" width="3" height="4" fill="#00ff00"/>
<rect x="721" y="151" width="1" height="2" fill="#fff"/>
<rect x="725" y="149" width="1" height="1" fill="#ff0000"/>
<rect x="724" y="150" width="3" height="9" fill="#ff0000"/>
<rect x="729" y="156" width="1" height="1" fill="#ff0000"/>
<rect x="729" y="182" width="1" height="1" fill="#ff0000"/>
<rect x="728" y="157" width="3" height="25" fill="#ff0000"/>
<rect x="733" y="178" width="1" height="3" fill="#ff0000"/>
<rect x="733" y="194" width="1" height="1" fill="#ff0000"/>
<rect x="732" y="181" width="3" height="13" fill="#ff0000"/>
<rect x="737" y="189" width="1" height="1" fill="#00ff00"/>
<rect x="737" y="193" width="1" height="4" fill="#00ff00"/>
<rect x="736" y="190" width="3" height="3" fill="#00ff00"/>
<rect x="737" y="191" width="1" height="1" fill="#fff"/>
<rect x="741" y="187" width="1" height="1" fill="#00ff00"/>
<rect x="741" y="191" width="1" height="6" fill="#00ff00"/>
<rect x="740" y="188" width="3" height="3" fill="#00ff00"/>
<rect x="741" y="189" width="1" height="1" fill="#fff"/>
<rect x="745" y="186" width="1" height="2" fill="#ff0000"/>
<rect x="745" y="194" width="1" height="1" fill="#ff0000"/>
<rect x="744" y="188" width="3" height="6" fill="#ff0000"/>
<rect x="749" y="188" width="1" height="4" fill="#ff0000"/>
<rect x="749" y="197" width="1" height="3" fill="#ff0000"/>
<rect x="748" y="192" width="3" height="5" fill="#ff0000"/>
<rect x="752" y="170" width="3" height="27" fill="#00ff00"/>
<rect x="753" y="171" width="1" height="25" fill="#fff"/>
<rect x="757" y="168" width="1" height="1" fill="#ff0000"/>
<rect x="757" y="173" width="1" height="6" fill="#ff0000"/>
<rect x="756" y="169" width="3" height="4" fill="#ff0000"/>
<rect x="761" y="165" width="1" height="3" fill="#00ff00"/>
<rect x="761" y="172" width="1" height="1" fill="#00ff00"/>
<rect x="760" y="168" width="3" height="4" fill="#00ff00"/>
<rect x="761" y="169" width="1" height="2" fill="#fff"/>
<rect x="765" y="164" width="1" height="2" fill="#00ff00"/>
<rect x="765" y="170" width="1" height="1" fill="#00ff00"/>
<rect x="764" y="166" width="3" height="4" fill="#00ff00"/>
<rect x="765" y="167" width="1" height="2" fill="#fff"/>
<rect x="769" y="164" width="1" height="1" fill="#00ff00"/>
<rect x="769" y="167" width="1" height="1" fill="#00ff00"/>
<rect x="768" y="165" width="3" height="2" fill="#00ff00"/>
<rect x="773" y="158" width="1" height="1" fill="#00ff00"/>
<rect x="772" y="159" width="3" height="8" fill="#00ff00"/>
<rect x="773" y="160" width="1" height="6" fill="#fff"/>
<rect x="777" y="158" width="1" height="1" fill="#ff0000"/>
<rect x="777" y="165" width="1" height="5" fill="#ff0000"/>
<rect x="776" y="159" width="3" height="6" fill="#ff0000"/>
<rect x="781" y="160" width="1" height="1" fill="#00ff00"/>
<rect x="780" y="161" width="3" height="5" fill="#00ff00"/>
<rect x="781" y="162" width="1" height="3" fill="#fff"/>
<rect x="785" y="160" width="1" height="1" fill="#ff0000"/>
<rect x="784" y="161" width="3" height="8" fill="#ff0000"/>
<rect x="789" y="166" width="1" height="1" fill="#ff0000"/>
<rect x="789" y="170" width="1" height="1" fill="#ff0000"/>
<rect x="788" y="167" width="3" height="3" fill="#ff0000"/>
<rect x="793" y="178" width="1" height="1" fill="#ff0000"/>
<rect x="792" y="167" width="3" height="11" fill="#ff0000"/>
<rect x="797" y="169" width="1" height="7" fill="#ff0000"/>
<rect x="797" y="179" width="1" height="1" fill="#ff0000"/>
<rect x="796" y="176" width="3" height="3" fill="#ff0000"/>
<rect x="801" y="107" width="1" height="5" fill="#00ff00"/>
<rect x="800" y="112" width="3" height="65" fill="#00ff00"/>
<rect x="801" y="113" width="1" height="63" fill="#fff"/>
<rect x="805" y="111" width="1" height="1" fill="#ff0000"/>
<rect x="805" y="115" width="1" height="2" fill="#ff0000"/>
<rect x="804" y="112" width="3" height="3" fill="#ff0000"/>
<rect x="809" y="129" width="1" height="2" fill="#ff0000"/>
<rect x="808" y="113" width="3" height="16" fill="#ff0000"/>
<rect x="813" y="129" width="1" height="4" fill="#00ff00"/>
<rect x="812" y="123" width="3" height="6" fill="#00ff00"/>
<rect x="813" y="124" width="1" height="4" fill="#fff"/>
<rect x="817" y="116" width="1" height="1" fill="#00ff00"/>
<rect x="817" y="124" width="1" height="1" fill="#00ff00"/>
<rect x="816" y="117" width="3" height="7" fill="#00ff00"/>
<rect x="817" y="118" width="1" height="5" fill="#fff"/>
<rect x="821" y="116" width="1" height="1" fill="#ff0000"/>
<rect x="821" y="131" width="1" height="2" fill="#ff0000"/>
<rect x="820" y="117" width="3" height="14" fill="#ff0000"/>
</g>
<circle cx="85" cy="184.7" r="7.6" fill="none" stroke="#000" stroke-width="1"/>
<text x="85" y="189.2" fill="#000" style="font-family:'Liberation Serif','Times New Roman',serif;font-size:14px" stroke="#000" stroke-width="0.25" text-anchor="middle">b</text>
<text x="221.4" y="350" fill="#ff00ff" style="font-family:'Liberation Serif','Times New Roman',serif;font-size:16px" text-anchor="middle">(a)</text>
<text x="240.7" y="405.5" fill="#ff00ff" style="font-family:'Liberation Serif','Times New Roman',serif;font-size:16px" text-anchor="middle">(b)</text>
<circle cx="225.1" cy="470.9" r="7.6" fill="none" stroke="#000" stroke-width="1"/>
<text x="225.1" y="475.4" fill="#000" style="font-family:'Liberation Serif','Times New Roman',serif;font-size:14px" stroke="#000" stroke-width="0.25" text-anchor="middle">c</text>
<text x="225.1" y="508" fill="#000" style="font-family:'Liberation Serif','Times New Roman',serif;font-size:16px" stroke="#000" stroke-width="0.25" text-anchor="middle">X</text>
<text x="225.4" y="534" fill="#ff00ff" style="font-family:'Liberation Serif','Times New Roman',serif;font-size:16px" text-anchor="middle">B</text>
<circle cx="413.2" cy="129.4" r="7.6" fill="none" stroke="#ff00ff" stroke-width="1"/>
<text x="413.2" y="133.9" fill="#ff00ff" style="font-family:'Liberation Serif','Times New Roman',serif;font-size:14px" text-anchor="middle">i</text>
<text x="412.8" y="147" fill="#ff00ff" style="font-family:'Liberation Serif','Times New Roman',serif;font-size:16px" text-anchor="middle">(c)</text>
<circle cx="413.2" cy="157" r="7.6" fill="none" stroke="#000" stroke-width="1"/>
<text x="413.2" y="161.5" fill="#000" style="font-family:'Liberation Serif','Times New Roman',serif;font-size:14px" stroke="#000" stroke-width="0.25" text-anchor="middle">a</text>
<text x="457.3" y="174" fill="#000" style="font-family:'Liberation Serif','Times New Roman',serif;font-size:16px" stroke="#000" stroke-width="0.25" text-anchor="middle">b</text>
<text x="488.7" y="188" fill="#000" style="font-family:'Liberation Serif','Times New Roman',serif;font-size:16px" stroke="#000" stroke-width="0.25" text-anchor="middle">(x)</text>
<text x="437.4" y="262" fill="#000" style="font-family:'Liberation Serif','Times New Roman',serif;font-size:16px" stroke="#000" stroke-width="0.25" text-anchor="middle">a</text>
<text x="472.6" y="266.3" fill="#000" style="font-family:'Liberation Serif','Times New Roman',serif;font-size:16px" stroke="#000" stroke-width="0.25" text-anchor="middle">c</text>
<text x="472.8" y="287" fill="#000" style="font-family:'Liberation Serif','Times New Roman',serif;font-size:16px" stroke="#000" stroke-width="0.25" text-anchor="middle">(w)</text>
<text x="533.4" y="335" fill="#000" style="font-family:'Liberation Serif','Times New Roman',serif;font-size:16px" stroke="#000" stroke-width="0.25" text-anchor="middle">a</text>
<text x="561.2" y="239" fill="#000" style="font-family:'Liberation Serif','Times New Roman',serif;font-size:16px" stroke="#000" stroke-width="0.25" text-anchor="middle">b</text>
<text x="604.6" y="322" fill="#000" style="font-family:'Liberation Serif','Times New Roman',serif;font-size:16px" stroke="#000" stroke-width="0.25" text-anchor="middle">c</text>
<text x="604.9" y="337" fill="#000" style="font-family:'Liberation Serif','Times New Roman',serif;font-size:16px" stroke="#000" stroke-width="0.25" text-anchor="middle">(y)</text>
<circle cx="604.9" cy="348.1" r="7.6" fill="none" stroke="#000" stroke-width="1"/>
<text x="604.9" y="352.6" fill="#000" style="font-family:'Liberation Serif','Times New Roman',serif;font-size:14px" stroke="#000" stroke-width="0.25" text-anchor="middle">b</text>
<circle cx="605.1" cy="366.3" r="7.6" fill="none" stroke="#ff00ff" stroke-width="1"/>
<text x="605.1" y="370.8" fill="#ff00ff" style="font-family:'Liberation Serif','Times New Roman',serif;font-size:13px" text-anchor="middle">ii</text>
<text x="629.6" y="188" fill="#ff00ff" style="font-family:'Liberation Serif','Times New Roman',serif;font-size:16px" text-anchor="middle">(a)</text>
<text x="640.9" y="272.5" fill="#ff00ff" style="font-family:'Liberation Serif','Times New Roman',serif;font-size:16px" text-anchor="middle">(b)</text>
<circle cx="705.2" cy="88.9" r="7.6" fill="none" stroke="#ff00ff" stroke-width="1"/>
<text x="705.2" y="93.4" fill="#ff00ff" style="font-family:'Liberation Serif','Times New Roman',serif;font-size:12px" text-anchor="middle">iii</text>
<text x="704.8" y="111" fill="#ff00ff" style="font-family:'Liberation Serif','Times New Roman',serif;font-size:16px" text-anchor="middle">(c)</text>
<text x="704.7" y="130.5" fill="#000" style="font-family:'Liberation Serif','Times New Roman',serif;font-size:16px" stroke="#000" stroke-width="0.25" text-anchor="middle">(i)</text>
<text x="752.8" y="216" fill="#000" style="font-family:'Liberation Serif','Times New Roman',serif;font-size:16px" stroke="#000" stroke-width="0.25" text-anchor="middle">(ii)</text>
<circle cx="753.2" cy="233.8" r="7.6" fill="none" stroke="#ff00ff" stroke-width="1"/>
<text x="753.2" y="238.3" fill="#ff00ff" style="font-family:'Liberation Serif','Times New Roman',serif;font-size:12px" text-anchor="middle">iv</text>
<text x="829.6" y="36.7" fill="#ff00ff" style="font-family:'Liberation Serif','Times New Roman',serif;font-size:16px" text-anchor="middle">C</text>
<text x="828.9" y="55" fill="#000" style="font-family:'Liberation Serif','Times New Roman',serif;font-size:16px" stroke="#000" stroke-width="0.25" text-anchor="middle">(2)</text>
<text x="829.4" y="70" fill="#000" style="font-family:'Liberation Serif','Times New Roman',serif;font-size:16px" stroke="#000" stroke-width="0.25" text-anchor="middle">Y</text>
<text x="1" y="13" fill="#00ff00" style="font-family:'Liberation Sans',Arial,sans-serif;font-size:11px" textLength="69.5" lengthAdjust="spacingAndGlyphs">$INDU - 65 min</text>
<text x="77.5" y="13" fill="#00ff00" style="font-family:'Liberation Sans',Arial,sans-serif;font-size:11px" textLength="13" lengthAdjust="spacingAndGlyphs">US</text>
<text x="97.5" y="13" fill="#00ff00" style="font-family:'Liberation Sans',Arial,sans-serif;font-size:11px" textLength="56.3" lengthAdjust="spacingAndGlyphs">L=12397.38</text>
<text x="160.75" y="13" fill="#00ff00" style="font-family:'Liberation Sans',Arial,sans-serif;font-size:11px" textLength="32.3" lengthAdjust="spacingAndGlyphs">179.82</text>
<text x="200" y="13" fill="#00ff00" style="font-family:'Liberation Sans',Arial,sans-serif;font-size:11px" textLength="28.8" lengthAdjust="spacingAndGlyphs">1.47%</text>
<text x="236.3" y="13" fill="#000" style="font-family:'Liberation Sans',Arial,sans-serif;font-size:11px" stroke="#000" stroke-width="0.3" textLength="33.5" lengthAdjust="spacingAndGlyphs">B=0.00</text>
<text x="276.5" y="13" fill="#000" style="font-family:'Liberation Sans',Arial,sans-serif;font-size:11px" stroke="#000" stroke-width="0.3" textLength="32.5" lengthAdjust="spacingAndGlyphs">A=0.00</text>
<text x="317.5" y="13" fill="#00ff00" style="font-family:'Liberation Sans',Arial,sans-serif;font-size:11px" textLength="58.5" lengthAdjust="spacingAndGlyphs">O=12221.19</text>
<text x="382.5" y="13" fill="#000" style="font-family:'Liberation Sans',Arial,sans-serif;font-size:11px" stroke="#000" stroke-width="0.3" textLength="60" lengthAdjust="spacingAndGlyphs">Hi=12479.65</text>
<text x="448.5" y="13" fill="#000" style="font-family:'Liberation Sans',Arial,sans-serif;font-size:11px" stroke="#000" stroke-width="0.3" textLength="61.5" lengthAdjust="spacingAndGlyphs">Lo=12221.19</text>
<text x="517" y="13" fill="#000" style="font-family:'Liberation Sans',Arial,sans-serif;font-size:11px" stroke="#000" stroke-width="0.3" textLength="51" lengthAdjust="spacingAndGlyphs">V=879,214</text>
<text x="576" y="13" fill="#000" style="font-family:'Liberation Sans',Arial,sans-serif;font-size:11px" stroke="#000" stroke-width="0.3" textLength="316" lengthAdjust="spacingAndGlyphs">FWT FibGrid 3_1as (3,Red,DarkGreen,Black,RGB(153,153,255),...</text>
<text x="898" y="13" fill="#ff0000" style="font-family:'Liberation Sans',Arial,sans-serif;font-size:11px" textLength="14" lengthAdjust="spacingAndGlyphs">.00</text>
<text x="919.5" y="13" fill="#0000ff" style="font-family:'Liberation Sans',Arial,sans-serif;font-size:11px" textLength="15" lengthAdjust="spacingAndGlyphs">.00</text>
<text x="941" y="13" fill="#ffff00" style="font-family:'Liberation Sans',Arial,sans-serif;font-size:11px" textLength="11" lengthAdjust="spacingAndGlyphs">71</text>
<text x="957" y="13" fill="#ffff00" style="font-family:'Liberation Sans',Arial,sans-serif;font-size:11px" textLength="7.5" lengthAdjust="spacingAndGlyphs">...</text>
<rect x="966" y="0" width="1" height="751" fill="#ff0000"/>
<rect x="966" y="20" width="4" height="1" fill="#ff0000"/>
<text x="972" y="24" fill="#000" style="font-family:'Liberation Sans',Arial,sans-serif;font-size:11px" stroke="#000" stroke-width="0.3" textLength="46.5" lengthAdjust="spacingAndGlyphs">12,800.00</text>
<rect x="966" y="74" width="4" height="1" fill="#ff0000"/>
<text x="972" y="78" fill="#000" style="font-family:'Liberation Sans',Arial,sans-serif;font-size:11px" stroke="#000" stroke-width="0.3" textLength="46.5" lengthAdjust="spacingAndGlyphs">12,600.00</text>
<rect x="966" y="182" width="4" height="1" fill="#ff0000"/>
<text x="972" y="186" fill="#000" style="font-family:'Liberation Sans',Arial,sans-serif;font-size:11px" stroke="#000" stroke-width="0.3" textLength="46.5" lengthAdjust="spacingAndGlyphs">12,200.00</text>
<rect x="966" y="236" width="4" height="1" fill="#ff0000"/>
<text x="972" y="240" fill="#000" style="font-family:'Liberation Sans',Arial,sans-serif;font-size:11px" stroke="#000" stroke-width="0.3" textLength="46.5" lengthAdjust="spacingAndGlyphs">12,000.00</text>
<rect x="966" y="290" width="4" height="1" fill="#ff0000"/>
<text x="972" y="294" fill="#000" style="font-family:'Liberation Sans',Arial,sans-serif;font-size:11px" stroke="#000" stroke-width="0.3" textLength="46.5" lengthAdjust="spacingAndGlyphs">11,800.00</text>
<rect x="966" y="344" width="4" height="1" fill="#ff0000"/>
<text x="972" y="348" fill="#000" style="font-family:'Liberation Sans',Arial,sans-serif;font-size:11px" stroke="#000" stroke-width="0.3" textLength="46.5" lengthAdjust="spacingAndGlyphs">11,600.00</text>
<rect x="966" y="398" width="4" height="1" fill="#ff0000"/>
<text x="972" y="402" fill="#000" style="font-family:'Liberation Sans',Arial,sans-serif;font-size:11px" stroke="#000" stroke-width="0.3" textLength="46.5" lengthAdjust="spacingAndGlyphs">11,400.00</text>
<rect x="966" y="453" width="4" height="1" fill="#ff0000"/>
<text x="972" y="457" fill="#000" style="font-family:'Liberation Sans',Arial,sans-serif;font-size:11px" stroke="#000" stroke-width="0.3" textLength="46.5" lengthAdjust="spacingAndGlyphs">11,200.00</text>
<rect x="966" y="507" width="4" height="1" fill="#ff0000"/>
<text x="972" y="511" fill="#000" style="font-family:'Liberation Sans',Arial,sans-serif;font-size:11px" stroke="#000" stroke-width="0.3" textLength="46.5" lengthAdjust="spacingAndGlyphs">11,000.00</text>
<rect x="967" y="124" width="55" height="14" fill="#ff0000"/>
<text x="972.8" y="135" fill="#fff" style="font-family:'Liberation Sans',Arial,sans-serif;font-size:11px" textLength="46.8" lengthAdjust="spacingAndGlyphs">12,397.38</text>
<rect x="965" y="547" width="57" height="1" fill="#ff0000"/>
<rect x="965" y="675" width="57" height="1" fill="#ff0000"/>
<rect x="965" y="734" width="57" height="1" fill="#ff0000"/>
<rect x="966" y="562" width="4" height="1" fill="#ff0000"/>
<rect x="966" y="573" width="4" height="1" fill="#ff0000"/>
<rect x="966" y="584" width="4" height="1" fill="#ff0000"/>
<rect x="966" y="595" width="4" height="1" fill="#ff0000"/>
<rect x="966" y="605" width="4" height="1" fill="#ff0000"/>
<rect x="966" y="616" width="4" height="1" fill="#ff0000"/>
<rect x="966" y="627" width="4" height="1" fill="#ff0000"/>
<rect x="966" y="638" width="4" height="1" fill="#ff0000"/>
<rect x="966" y="649" width="4" height="1" fill="#ff0000"/>
<rect x="966" y="659" width="4" height="1" fill="#ff0000"/>
<text x="972" y="577" fill="#000" style="font-family:'Liberation Sans',Arial,sans-serif;font-size:11px" stroke="#000" stroke-width="0.3" textLength="31" lengthAdjust="spacingAndGlyphs">500.00</text>
<text x="972" y="599" fill="#000" style="font-family:'Liberation Sans',Arial,sans-serif;font-size:11px" stroke="#000" stroke-width="0.3" textLength="31" lengthAdjust="spacingAndGlyphs">300.00</text>
<text x="972" y="642" fill="#000" style="font-family:'Liberation Sans',Arial,sans-serif;font-size:11px" stroke="#000" stroke-width="0.3" textLength="35" lengthAdjust="spacingAndGlyphs">-100.00</text>
<text x="972" y="663" fill="#000" style="font-family:'Liberation Sans',Arial,sans-serif;font-size:11px" stroke="#000" stroke-width="0.3" textLength="35" lengthAdjust="spacingAndGlyphs">-300.00</text>
<rect x="967" y="606" width="55" height="5" fill="#0000ff"/>
<text x="972.8" y="616.7" fill="#fff" style="font-family:'Liberation Sans',Arial,sans-serif;font-size:11px" textLength="31.9" lengthAdjust="spacingAndGlyphs" clip-path="url(#cpblue)">148.07</text>
<rect x="967" y="611" width="55" height="14" fill="#00ff00"/>
<text x="972.8" y="622" fill="#fff" style="font-family:'Liberation Sans',Arial,sans-serif;font-size:11px" textLength="31.9" lengthAdjust="spacingAndGlyphs">106.04</text>
<rect x="966" y="689" width="4" height="1" fill="#ff0000"/>
<rect x="966" y="698" width="4" height="1" fill="#ff0000"/>
<rect x="966" y="706" width="4" height="1" fill="#ff0000"/>
<rect x="966" y="715" width="4" height="1" fill="#ff0000"/>
<rect x="966" y="723" width="4" height="1" fill="#ff0000"/>
<text x="972" y="693.5" fill="#000" style="font-family:'Liberation Sans',Arial,sans-serif;font-size:11px" stroke="#000" stroke-width="0.3" textLength="31.5" lengthAdjust="spacingAndGlyphs">100.00</text>
<text x="972" y="719" fill="#000" style="font-family:'Liberation Sans',Arial,sans-serif;font-size:11px" stroke="#000" stroke-width="0.3" textLength="26" lengthAdjust="spacingAndGlyphs">40.00</text>
<rect x="967" y="701" width="55" height="14" fill="#000"/>
<text x="972" y="712" fill="#fff" style="font-family:'Liberation Sans',Arial,sans-serif;font-size:11px" textLength="25.8" lengthAdjust="spacingAndGlyphs">61.61</text>
<rect x="965" y="745" width="2" height="1" fill="#ff0000"/>
<rect x="967" y="737" width="55" height="14" fill="#ff0000"/>
<text x="972.8" y="748" fill="#fff" style="font-family:'Liberation Sans',Arial,sans-serif;font-size:11px" textLength="40.4" lengthAdjust="spacingAndGlyphs">1,047.00</text>
<rect x="1022" y="2" width="2" height="15" fill="#dfe7ef"/>
<circle cx="1024" cy="9.5" r="2.6" fill="#7d8790"/>
<rect x="1022" y="17" width="2" height="1" fill="#9aa4ae"/>
<rect x="1022" y="18" width="1" height="750" fill="#e3e3e3"/>
<rect x="0" y="767" width="1022" height="1" fill="#ececec"/>
<text x="1.5" y="559" fill="#000" style="font-family:'Liberation Sans',Arial,sans-serif;font-size:11px" stroke="#000" stroke-width="0.3" textLength="56" lengthAdjust="spacingAndGlyphs">MM_EWO ()</text>
<text x="68" y="559" fill="#00ff00" style="font-family:'Liberation Sans',Arial,sans-serif;font-size:11px" textLength="31.5" lengthAdjust="spacingAndGlyphs">106.04</text>
<text x="107" y="559" fill="#0000ff" style="font-family:'Liberation Sans',Arial,sans-serif;font-size:11px" textLength="31.5" lengthAdjust="spacingAndGlyphs">148.07</text>
<g shape-rendering="crispEdges">
<rect x="1" y="621" width="1" height="7" fill="#0000ff"/>
<rect x="5" y="616" width="1" height="12" fill="#0000ff"/>
<rect x="9" y="611" width="1" height="17" fill="#0000ff"/>
<rect x="13" y="609" width="1" height="19" fill="#0000ff"/>
<rect x="17" y="612" width="1" height="16" fill="#0000ff"/>
<rect x="21" y="613" width="1" height="15" fill="#0000ff"/>
<rect x="25" y="614" width="1" height="14" fill="#0000ff"/>
<rect x="29" y="617" width="1" height="11" fill="#0000ff"/>
<rect x="33" y="618" width="1" height="10" fill="#0000ff"/>
<rect x="37" y="620" width="1" height="8" fill="#0000ff"/>
<rect x="41" y="622" width="1" height="6" fill="#0000ff"/>
<rect x="45" y="623" width="1" height="5" fill="#0000ff"/>
<rect x="49" y="623" width="1" height="5" fill="#0000ff"/>
<rect x="53" y="623" width="1" height="5" fill="#0000ff"/>
<rect x="57" y="623" width="1" height="5" fill="#0000ff"/>
<rect x="61" y="623" width="1" height="5" fill="#0000ff"/>
<rect x="65" y="623" width="1" height="5" fill="#0000ff"/>
<rect x="69" y="623" width="1" height="5" fill="#0000ff"/>
<rect x="73" y="624" width="1" height="4" fill="#0000ff"/>
<rect x="77" y="625" width="1" height="3" fill="#0000ff"/>
<rect x="81" y="625" width="1" height="3" fill="#0000ff"/>
<rect x="85" y="627" width="1" height="1" fill="#0000ff"/>
<rect x="89" y="627" width="1" height="1" fill="#0000ff"/>
<rect x="93" y="627" width="1" height="4" fill="#0000ff"/>
<rect x="97" y="627" width="1" height="11" fill="#0000ff"/>
<rect x="101" y="627" width="1" height="18" fill="#0000ff"/>
<rect x="105" y="627" width="1" height="23" fill="#0000ff"/>
<rect x="109" y="627" width="1" height="26" fill="#0000ff"/>
<rect x="113" y="627" width="1" height="28" fill="#0000ff"/>
<rect x="117" y="627" width="1" height="26" fill="#0000ff"/>
<rect x="121" y="627" width="1" height="26" fill="#0000ff"/>
<rect x="125" y="627" width="1" height="25" fill="#0000ff"/>
<rect x="129" y="627" width="1" height="21" fill="#0000ff"/>
<rect x="133" y="627" width="1" height="20" fill="#0000ff"/>
<rect x="137" y="627" width="1" height="22" fill="#0000ff"/>
<rect x="141" y="627" width="1" height="24" fill="#0000ff"/>
<rect x="145" y="627" width="1" height="31" fill="#0000ff"/>
<rect x="149" y="627" width="1" height="36" fill="#0000ff"/>
<rect x="153" y="627" width="1" height="40" fill="#0000ff"/>
<rect x="157" y="627" width="1" height="41" fill="#0000ff"/>
<rect x="161" y="627" width="1" height="39" fill="#0000ff"/>
<rect x="165" y="627" width="1" height="37" fill="#0000ff"/>
<rect x="169" y="627" width="1" height="34" fill="#0000ff"/>
<rect x="173" y="627" width="1" height="33" fill="#0000ff"/>
<rect x="177" y="627" width="1" height="32" fill="#0000ff"/>
<rect x="181" y="627" width="1" height="31" fill="#0000ff"/>
<rect x="185" y="627" width="1" height="31" fill="#0000ff"/>
<rect x="189" y="627" width="1" height="30" fill="#0000ff"/>
<rect x="193" y="627" width="1" height="30" fill="#0000ff"/>
<rect x="197" y="627" width="1" height="32" fill="#0000ff"/>
<rect x="201" y="627" width="1" height="37" fill="#0000ff"/>
<rect x="205" y="627" width="1" height="37" fill="#0000ff"/>
<rect x="209" y="627" width="1" height="34" fill="#0000ff"/>
<rect x="213" y="627" width="1" height="34" fill="#0000ff"/>
<rect x="217" y="627" width="1" height="32" fill="#0000ff"/>
<rect x="221" y="627" width="1" height="31" fill="#0000ff"/>
<rect x="225" y="627" width="1" height="26" fill="#0000ff"/>
<rect x="229" y="627" width="1" height="20" fill="#0000ff"/>
<rect x="233" y="627" width="1" height="14" fill="#0000ff"/>
<rect x="237" y="627" width="1" height="8" fill="#0000ff"/>
<rect x="241" y="627" width="1" height="2" fill="#0000ff"/>
<rect x="245" y="627" width="1" height="1" fill="#0000ff"/>
<rect x="249" y="625" width="1" height="3" fill="#0000ff"/>
<rect x="253" y="623" width="1" height="5" fill="#0000ff"/>
<rect x="257" y="621" width="1" height="7" fill="#0000ff"/>
<rect x="261" y="619" width="1" height="9" fill="#0000ff"/>
<rect x="265" y="616" width="1" height="12" fill="#0000ff"/>
<rect x="269" y="615" width="1" height="13" fill="#0000ff"/>
<rect x="273" y="612" width="1" height="16" fill="#0000ff"/>
<rect x="277" y="605" width="1" height="23" fill="#0000ff"/>
<rect x="281" y="598" width="1" height="30" fill="#0000ff"/>
<rect x="285" y="591" width="1" height="37" fill="#0000ff"/>
<rect x="289" y="585" width="1" height="43" fill="#0000ff"/>
<rect x="293" y="581" width="1" height="47" fill="#0000ff"/>
<rect x="297" y="582" width="1" height="46" fill="#0000ff"/>
<rect x="301" y="583" width="1" height="45" fill="#0000ff"/>
<rect x="305" y="582" width="1" height="46" fill="#0000ff"/>
<rect x="309" y="583" width="1" height="45" fill="#0000ff"/>
<rect x="313" y="584" width="1" height="44" fill="#0000ff"/>
<rect x="317" y="585" width="1" height="43" fill="#0000ff"/>
<rect x="321" y="586" width="1" height="42" fill="#0000ff"/>
<rect x="325" y="587" width="1" height="41" fill="#0000ff"/>
<rect x="329" y="588" width="1" height="40" fill="#0000ff"/>
<rect x="333" y="590" width="1" height="38" fill="#0000ff"/>
<rect x="337" y="592" width="1" height="36" fill="#0000ff"/>
<rect x="341" y="596" width="1" height="32" fill="#0000ff"/>
<rect x="345" y="598" width="1" height="30" fill="#0000ff"/>
<rect x="349" y="598" width="1" height="30" fill="#0000ff"/>
<rect x="353" y="599" width="1" height="29" fill="#0000ff"/>
<rect x="357" y="600" width="1" height="28" fill="#0000ff"/>
<rect x="361" y="601" width="1" height="27" fill="#0000ff"/>
<rect x="365" y="603" width="1" height="25" fill="#0000ff"/>
<rect x="369" y="606" width="1" height="22" fill="#0000ff"/>
<rect x="373" y="608" width="1" height="20" fill="#0000ff"/>
<rect x="377" y="611" width="1" height="17" fill="#0000ff"/>
<rect x="381" y="611" width="1" height="17" fill="#0000ff"/>
<rect x="385" y="610" width="1" height="18" fill="#0000ff"/>
<rect x="389" y="612" width="1" height="16" fill="#0000ff"/>
<rect x="393" y="614" width="1" height="14" fill="#0000ff"/>
<rect x="397" y="616" width="1" height="12" fill="#0000ff"/>
<rect x="401" y="618" width="1" height="10" fill="#0000ff"/>
<rect x="405" y="620" width="1" height="8" fill="#0000ff"/>
<rect x="409" y="622" width="1" height="6" fill="#0000ff"/>
<rect x="413" y="621" width="1" height="7" fill="#0000ff"/>
<rect x="417" y="622" width="1" height="6" fill="#0000ff"/>
<rect x="421" y="623" width="1" height="5" fill="#0000ff"/>
<rect x="425" y="624" width="1" height="4" fill="#0000ff"/>
<rect x="429" y="627" width="1" height="1" fill="#0000ff"/>
<rect x="433" y="627" width="1" height="1" fill="#0000ff"/>
<rect x="437" y="627" width="1" height="4" fill="#0000ff"/>
<rect x="441" y="627" width="1" height="5" fill="#0000ff"/>
<rect x="445" y="627" width="1" height="4" fill="#0000ff"/>
<rect x="449" y="627" width="1" height="1" fill="#0000ff"/>
<rect x="453" y="627" width="1" height="1" fill="#0000ff"/>
<rect x="457" y="625" width="1" height="3" fill="#0000ff"/>
<rect x="461" y="623" width="1" height="5" fill="#0000ff"/>
<rect x="465" y="625" width="1" height="3" fill="#0000ff"/>
<rect x="469" y="627" width="1" height="4" fill="#0000ff"/>
<rect x="473" y="627" width="1" height="4" fill="#0000ff"/>
<rect x="477" y="627" width="1" height="8" fill="#0000ff"/>
<rect x="481" y="627" width="1" height="13" fill="#0000ff"/>
<rect x="485" y="627" width="1" height="14" fill="#0000ff"/>
<rect x="489" y="627" width="1" height="11" fill="#0000ff"/>
<rect x="493" y="627" width="1" height="9" fill="#0000ff"/>
<rect x="497" y="627" width="1" height="8" fill="#0000ff"/>
<rect x="501" y="627" width="1" height="5" fill="#0000ff"/>
<rect x="505" y="627" width="1" height="3" fill="#0000ff"/>
<rect x="509" y="627" width="1" height="3" fill="#0000ff"/>
<rect x="513" y="627" width="1" height="4" fill="#0000ff"/>
<rect x="517" y="627" width="1" height="12" fill="#0000ff"/>
<rect x="521" y="627" width="1" height="16" fill="#0000ff"/>
<rect x="525" y="627" width="1" height="20" fill="#0000ff"/>
<rect x="529" y="627" width="1" height="22" fill="#0000ff"/>
<rect x="533" y="627" width="1" height="23" fill="#0000ff"/>
<rect x="537" y="627" width="1" height="22" fill="#0000ff"/>
<rect x="541" y="627" width="1" height="21" fill="#0000ff"/>
<rect x="545" y="627" width="1" height="18" fill="#0000ff"/>
<rect x="549" y="627" width="1" height="15" fill="#0000ff"/>
<rect x="553" y="627" width="1" height="13" fill="#0000ff"/>
<rect x="557" y="627" width="1" height="12" fill="#0000ff"/>
<rect x="561" y="627" width="1" height="11" fill="#0000ff"/>
<rect x="565" y="627" width="1" height="10" fill="#0000ff"/>
<rect x="569" y="627" width="1" height="8" fill="#0000ff"/>
<rect x="573" y="627" width="1" height="8" fill="#0000ff"/>
<rect x="577" y="627" width="1" height="8" fill="#0000ff"/>
<rect x="581" y="627" width="1" height="10" fill="#0000ff"/>
<rect x="585" y="627" width="1" height="10" fill="#0000ff"/>
<rect x="589" y="627" width="1" height="9" fill="#0000ff"/>
<rect x="593" y="627" width="1" height="8" fill="#0000ff"/>
<rect x="597" y="627" width="1" height="8" fill="#0000ff"/>
<rect x="601" y="627" width="1" height="9" fill="#0000ff"/>
<rect x="605" y="627" width="1" height="10" fill="#0000ff"/>
<rect x="609" y="627" width="1" height="8" fill="#0000ff"/>
<rect x="613" y="627" width="1" height="4" fill="#0000ff"/>
<rect x="617" y="627" width="1" height="1" fill="#0000ff"/>
<rect x="621" y="623" width="1" height="5" fill="#0000ff"/>
<rect x="625" y="616" width="1" height="12" fill="#0000ff"/>
<rect x="629" y="612" width="1" height="16" fill="#0000ff"/>
<rect x="633" y="611" width="1" height="17" fill="#0000ff"/>
<rect x="637" y="610" width="1" height="18" fill="#0000ff"/>
<rect x="641" y="614" width="1" height="14" fill="#0000ff"/>
<rect x="645" y="612" width="1" height="16" fill="#0000ff"/>
<rect x="649" y="614" width="1" height="14" fill="#0000ff"/>
<rect x="653" y="614" width="1" height="14" fill="#0000ff"/>
<rect x="657" y="614" width="1" height="14" fill="#0000ff"/>
<rect x="661" y="614" width="1" height="14" fill="#0000ff"/>
<rect x="665" y="614" width="1" height="14" fill="#0000ff"/>
<rect x="669" y="614" width="1" height="14" fill="#0000ff"/>
<rect x="673" y="613" width="1" height="15" fill="#0000ff"/>
<rect x="677" y="611" width="1" height="17" fill="#0000ff"/>
<rect x="681" y="610" width="1" height="18" fill="#0000ff"/>
<rect x="685" y="609" width="1" height="19" fill="#0000ff"/>
<rect x="689" y="609" width="1" height="19" fill="#0000ff"/>
<rect x="693" y="609" width="1" height="19" fill="#0000ff"/>
<rect x="697" y="608" width="1" height="20" fill="#0000ff"/>
<rect x="701" y="607" width="1" height="21" fill="#0000ff"/>
<rect x="705" y="606" width="1" height="22" fill="#0000ff"/>
<rect x="709" y="606" width="1" height="22" fill="#0000ff"/>
<rect x="713" y="606" width="1" height="22" fill="#0000ff"/>
<rect x="717" y="606" width="1" height="22" fill="#0000ff"/>
<rect x="721" y="607" width="1" height="21" fill="#0000ff"/>
<rect x="725" y="608" width="1" height="20" fill="#0000ff"/>
<rect x="729" y="610" width="1" height="18" fill="#0000ff"/>
<rect x="733" y="614" width="1" height="14" fill="#0000ff"/>
<rect x="737" y="618" width="1" height="10" fill="#0000ff"/>
<rect x="741" y="622" width="1" height="6" fill="#0000ff"/>
<rect x="745" y="626" width="1" height="2" fill="#0000ff"/>
<rect x="749" y="627" width="1" height="1" fill="#0000ff"/>
<rect x="753" y="626" width="1" height="2" fill="#0000ff"/>
<rect x="757" y="626" width="1" height="2" fill="#0000ff"/>
<rect x="761" y="626" width="1" height="2" fill="#0000ff"/>
<rect x="765" y="626" width="1" height="2" fill="#0000ff"/>
<rect x="769" y="626" width="1" height="2" fill="#0000ff"/>
<rect x="773" y="625" width="1" height="3" fill="#0000ff"/>
<rect x="777" y="625" width="1" height="3" fill="#0000ff"/>
<rect x="781" y="624" width="1" height="4" fill="#0000ff"/>
<rect x="785" y="624" width="1" height="4" fill="#0000ff"/>
<rect x="789" y="625" width="1" height="3" fill="#0000ff"/>
<rect x="793" y="625" width="1" height="3" fill="#0000ff"/>
<rect x="797" y="626" width="1" height="2" fill="#0000ff"/>
<rect x="801" y="626" width="1" height="2" fill="#0000ff"/>
<rect x="805" y="624" width="1" height="4" fill="#0000ff"/>
<rect x="809" y="619" width="1" height="9" fill="#0000ff"/>
<rect x="813" y="616" width="1" height="12" fill="#0000ff"/>
<rect x="817" y="613" width="1" height="15" fill="#0000ff"/>
<rect x="821" y="612" width="1" height="16" fill="#0000ff"/>
</g>
<circle cx="1.5" cy="629.2" r="2.45" fill="#00ff00"/>
<circle cx="5.5" cy="625.3" r="2.45" fill="#00ff00"/>
<circle cx="9.5" cy="620.5" r="2.45" fill="#00ff00"/>
<circle cx="13.5" cy="616.2" r="2.45" fill="#00ff00"/>
<circle cx="17.5" cy="613.0" r="2.45" fill="#00ff00"/>
<circle cx="21.5" cy="611.4" r="2.45" fill="#ff0000"/>
<circle cx="25.5" cy="611.4" r="2.45" fill="#ff0000"/>
<circle cx="29.5" cy="612.3" r="2.45" fill="#ff0000"/>
<circle cx="33.5" cy="613.2" r="2.45" fill="#ff0000"/>
<circle cx="37.5" cy="615.3" r="2.45" fill="#ff0000"/>
<circle cx="41.5" cy="616.9" r="2.45" fill="#ff0000"/>
<circle cx="45.5" cy="618.8" r="2.45" fill="#ff0000"/>
<circle cx="49.5" cy="621.0" r="2.45" fill="#ff0000"/>
<circle cx="53.5" cy="621.4" r="2.45" fill="#ff0000"/>
<circle cx="57.5" cy="622.3" r="2.45" fill="#00ff00"/>
<circle cx="61.5" cy="621.4" r="2.45" fill="#00ff00"/>
<circle cx="65.5" cy="621.4" r="2.45" fill="#00ff00"/>
<circle cx="69.5" cy="620.1" r="2.45" fill="#ff0000"/>
<circle cx="73.5" cy="620.1" r="2.45" fill="#ff0000"/>
<circle cx="77.5" cy="621.0" r="2.45" fill="#ff0000"/>
<circle cx="81.5" cy="622.1" r="2.45" fill="#ff0000"/>
<circle cx="85.5" cy="623.1" r="2.45" fill="#ff0000"/>
<circle cx="89.5" cy="625.3" r="2.45" fill="#ff0000"/>
<circle cx="93.5" cy="627.0" r="2.45" fill="#ff0000"/>
<circle cx="97.5" cy="629.2" r="2.45" fill="#ff0000"/>
<circle cx="101.5" cy="633.5" r="2.45" fill="#ff0000"/>
<circle cx="105.5" cy="638.4" r="2.45" fill="#ff0000"/>
<circle cx="109.5" cy="643.2" r="2.45" fill="#ff0000"/>
<circle cx="113.5" cy="647.5" r="2.45" fill="#ff0000"/>
<circle cx="117.5" cy="651.4" r="2.45" fill="#ff0000"/>
<circle cx="121.5" cy="652.3" r="2.45" fill="#ff0000"/>
<circle cx="125.5" cy="652.3" r="2.45" fill="#00ff00"/>
<circle cx="129.5" cy="652.3" r="2.45" fill="#00ff00"/>
<circle cx="133.5" cy="650.5" r="2.45" fill="#00ff00"/>
<circle cx="137.5" cy="648.8" r="2.45" fill="#00ff00"/>
<circle cx="141.5" cy="649.2" r="2.45" fill="#ff0000"/>
<circle cx="145.5" cy="650.5" r="2.45" fill="#ff0000"/>
<circle cx="149.5" cy="653.3" r="2.45" fill="#ff0000"/>
<circle cx="153.5" cy="657.5" r="2.45" fill="#ff0000"/>
<circle cx="157.5" cy="661.1" r="2.45" fill="#ff0000"/>
<circle cx="161.5" cy="663.5" r="2.45" fill="#ff0000"/>
<circle cx="165.5" cy="664.0" r="2.45" fill="#00ff00"/>
<circle cx="169.5" cy="663.75" r="2.45" fill="#00ff00"/>
<circle cx="173.5" cy="662.7" r="2.45" fill="#00ff00"/>
<circle cx="177.5" cy="661.1" r="2.45" fill="#00ff00"/>
<circle cx="181.5" cy="659.8" r="2.45" fill="#00ff00"/>
<circle cx="185.5" cy="657.9" r="2.45" fill="#00ff00"/>
<circle cx="189.5" cy="658.3" r="2.45" fill="#ff0000"/>
<circle cx="193.5" cy="658.3" r="2.45" fill="#ff0000"/>
<circle cx="197.5" cy="659.2" r="2.45" fill="#ff0000"/>
<circle cx="201.5" cy="660.1" r="2.45" fill="#ff0000"/>
<circle cx="205.5" cy="662.2" r="2.45" fill="#ff0000"/>
<circle cx="209.5" cy="662.2" r="2.45" fill="#00ff00"/>
<circle cx="213.5" cy="662.2" r="2.45" fill="#00ff00"/>
<circle cx="217.5" cy="661.1" r="2.45" fill="#00ff00"/>
<circle cx="221.5" cy="659.6" r="2.45" fill="#00ff00"/>
<circle cx="225.5" cy="657.2" r="2.45" fill="#00ff00"/>
<circle cx="229.5" cy="654.4" r="2.45" fill="#00ff00"/>
<circle cx="233.5" cy="650.5" r="2.45" fill="#00ff00"/>
<circle cx="237.5" cy="646.2" r="2.45" fill="#00ff00"/>
<circle cx="241.5" cy="640.3" r="2.45" fill="#00ff00"/>
<circle cx="245.5" cy="635.1" r="2.45" fill="#00ff00"/>
<circle cx="249.5" cy="631.2" r="2.45" fill="#00ff00"/>
<circle cx="253.5" cy="627.0" r="2.45" fill="#00ff00"/>
<circle cx="257.5" cy="624.7" r="2.45" fill="#00ff00"/>
<circle cx="261.5" cy="622.3" r="2.45" fill="#00ff00"/>
<circle cx="265.5" cy="620.1" r="2.45" fill="#00ff00"/>
<circle cx="269.5" cy="618.2" r="2.45" fill="#00ff00"/>
<circle cx="273.5" cy="616.2" r="2.45" fill="#00ff00"/>
<circle cx="277.5" cy="612.3" r="2.45" fill="#00ff00"/>
<circle cx="281.5" cy="608.4" r="2.45" fill="#00ff00"/>
<circle cx="285.5" cy="603.6" r="2.45" fill="#00ff00"/>
<circle cx="289.5" cy="597.6" r="2.45" fill="#00ff00"/>
<circle cx="293.5" cy="591.5" r="2.45" fill="#00ff00"/>
<circle cx="297.5" cy="586.3" r="2.45" fill="#00ff00"/>
<circle cx="301.5" cy="583.0" r="2.45" fill="#00ff00"/>
<circle cx="305.5" cy="582.4" r="2.45" fill="#ff0000"/>
<circle cx="309.5" cy="581.1" r="2.45" fill="#ff0000"/>
<circle cx="313.5" cy="582.0" r="2.45" fill="#ff0000"/>
<circle cx="317.5" cy="583.0" r="2.45" fill="#ff0000"/>
<circle cx="321.5" cy="584.1" r="2.45" fill="#ff0000"/>
<circle cx="325.5" cy="584.3" r="2.45" fill="#ff0000"/>
<circle cx="329.5" cy="585.4" r="2.45" fill="#ff0000"/>
<circle cx="333.5" cy="586.3" r="2.45" fill="#ff0000"/>
<circle cx="337.5" cy="588.2" r="2.45" fill="#ff0000"/>
<circle cx="341.5" cy="590.2" r="2.45" fill="#ff0000"/>
<circle cx="345.5" cy="592.1" r="2.45" fill="#ff0000"/>
<circle cx="349.5" cy="594.1" r="2.45" fill="#ff0000"/>
<circle cx="353.5" cy="596.0" r="2.45" fill="#ff0000"/>
<circle cx="357.5" cy="597.1" r="2.45" fill="#ff0000"/>
<circle cx="361.5" cy="597.6" r="2.45" fill="#ff0000"/>
<circle cx="365.5" cy="598.9" r="2.45" fill="#ff0000"/>
<circle cx="369.5" cy="601.0" r="2.45" fill="#ff0000"/>
<circle cx="373.5" cy="602.8" r="2.45" fill="#ff0000"/>
<circle cx="377.5" cy="604.9" r="2.45" fill="#ff0000"/>
<circle cx="381.5" cy="607.5" r="2.45" fill="#ff0000"/>
<circle cx="385.5" cy="608.4" r="2.45" fill="#ff0000"/>
<circle cx="389.5" cy="610.1" r="2.45" fill="#ff0000"/>
<circle cx="393.5" cy="611.4" r="2.45" fill="#ff0000"/>
<circle cx="397.5" cy="611.9" r="2.45" fill="#ff0000"/>
<circle cx="401.5" cy="613.0" r="2.45" fill="#ff0000"/>
<circle cx="405.5" cy="615.6" r="2.45" fill="#ff0000"/>
<circle cx="409.5" cy="617.5" r="2.45" fill="#ff0000"/>
<circle cx="413.5" cy="618.4" r="2.45" fill="#ff0000"/>
<circle cx="417.5" cy="619.2" r="2.45" fill="#ff0000"/>
<circle cx="421.5" cy="620.1" r="2.45" fill="#ff0000"/>
<circle cx="425.5" cy="620.1" r="2.45" fill="#ff0000"/>
<circle cx="429.5" cy="621.0" r="2.45" fill="#ff0000"/>
<circle cx="433.5" cy="622.7" r="2.45" fill="#ff0000"/>
<circle cx="437.5" cy="625.7" r="2.45" fill="#ff0000"/>
<circle cx="441.5" cy="628.3" r="2.45" fill="#ff0000"/>
<circle cx="445.5" cy="630.5" r="2.45" fill="#ff0000"/>
<circle cx="449.5" cy="631.2" r="2.45" fill="#00ff00"/>
<circle cx="453.5" cy="630.2" r="2.45" fill="#00ff00"/>
<circle cx="457.5" cy="629.2" r="2.45" fill="#00ff00"/>
<circle cx="461.5" cy="627.3" r="2.45" fill="#00ff00"/>
<circle cx="465.5" cy="625.3" r="2.45" fill="#00ff00"/>
<circle cx="469.5" cy="624.0" r="2.45" fill="#ff0000"/>
<circle cx="473.5" cy="624.7" r="2.45" fill="#ff0000"/>
<circle cx="477.5" cy="626.6" r="2.45" fill="#ff0000"/>
<circle cx="481.5" cy="630.2" r="2.45" fill="#ff0000"/>
<circle cx="485.5" cy="634.1" r="2.45" fill="#ff0000"/>
<circle cx="489.5" cy="636.4" r="2.45" fill="#ff0000"/>
<circle cx="493.5" cy="638.4" r="2.45" fill="#00ff00"/>
<circle cx="497.5" cy="638.0" r="2.45" fill="#00ff00"/>
<circle cx="501.5" cy="635.75" r="2.45" fill="#00ff00"/>
<circle cx="505.5" cy="634.1" r="2.45" fill="#00ff00"/>
<circle cx="509.5" cy="632.2" r="2.45" fill="#00ff00"/>
<circle cx="513.5" cy="632.2" r="2.45" fill="#ff0000"/>
<circle cx="517.5" cy="633.2" r="2.45" fill="#ff0000"/>
<circle cx="521.5" cy="635.1" r="2.45" fill="#ff0000"/>
<circle cx="525.5" cy="638.0" r="2.45" fill="#ff0000"/>
<circle cx="529.5" cy="641.4" r="2.45" fill="#ff0000"/>
<circle cx="533.5" cy="644.2" r="2.45" fill="#ff0000"/>
<circle cx="537.5" cy="646.2" r="2.45" fill="#ff0000"/>
<circle cx="541.5" cy="647.5" r="2.45" fill="#00ff00"/>
<circle cx="545.5" cy="647.5" r="2.45" fill="#00ff00"/>
<circle cx="549.5" cy="645.3" r="2.45" fill="#00ff00"/>
<circle cx="553.5" cy="643.6" r="2.45" fill="#00ff00"/>
<circle cx="557.5" cy="642.3" r="2.45" fill="#00ff00"/>
<circle cx="561.5" cy="640.3" r="2.45" fill="#00ff00"/>
<circle cx="565.5" cy="639.3" r="2.45" fill="#00ff00"/>
<circle cx="569.5" cy="638.4" r="2.45" fill="#00ff00"/>
<circle cx="573.5" cy="637.4" r="2.45" fill="#00ff00"/>
<circle cx="577.5" cy="637.4" r="2.45" fill="#00ff00"/>
<circle cx="581.5" cy="637.4" r="2.45" fill="#ff0000"/>
<circle cx="585.5" cy="637.4" r="2.45" fill="#ff0000"/>
<circle cx="589.5" cy="637.4" r="2.45" fill="#00ff00"/>
<circle cx="593.5" cy="636.4" r="2.45" fill="#00ff00"/>
<circle cx="597.5" cy="636.4" r="2.45" fill="#00ff00"/>
<circle cx="601.5" cy="636.4" r="2.45" fill="#00ff00"/>
<circle cx="605.5" cy="636.4" r="2.45" fill="#ff0000"/>
<circle cx="609.5" cy="636.4" r="2.45" fill="#ff0000"/>
<circle cx="613.5" cy="635.4" r="2.45" fill="#00ff00"/>
<circle cx="617.5" cy="633.5" r="2.45" fill="#00ff00"/>
<circle cx="621.5" cy="630.5" r="2.45" fill="#00ff00"/>
<circle cx="625.5" cy="626.25" r="2.45" fill="#00ff00"/>
<circle cx="629.5" cy="621.4" r="2.45" fill="#00ff00"/>
<circle cx="633.5" cy="617.5" r="2.45" fill="#00ff00"/>
<circle cx="637.5" cy="613.0" r="2.45" fill="#00ff00"/>
<circle cx="641.5" cy="611.4" r="2.45" fill="#00ff00"/>
<circle cx="645.5" cy="610.1" r="2.45" fill="#ff0000"/>
<circle cx="649.5" cy="611.4" r="2.45" fill="#ff0000"/>
<circle cx="653.5" cy="612.3" r="2.45" fill="#ff0000"/>
<circle cx="657.5" cy="612.3" r="2.45" fill="#ff0000"/>
<circle cx="661.5" cy="612.3" r="2.45" fill="#00ff00"/>
<circle cx="665.5" cy="611.9" r="2.45" fill="#00ff00"/>
<circle cx="669.5" cy="611.0" r="2.45" fill="#00ff00"/>
<circle cx="673.5" cy="610.1" r="2.45" fill="#00ff00"/>
<circle cx="677.5" cy="609.1" r="2.45" fill="#00ff00"/>
<circle cx="681.5" cy="608.0" r="2.45" fill="#00ff00"/>
<circle cx="685.5" cy="607.1" r="2.45" fill="#00ff00"/>
<circle cx="689.5" cy="607.5" r="2.45" fill="#00ff00"/>
<circle cx="693.5" cy="607.5" r="2.45" fill="#00ff00"/>
<circle cx="697.5" cy="606.2" r="2.45" fill="#00ff00"/>
<circle cx="701.5" cy="605.2" r="2.45" fill="#00ff00"/>
<circle cx="705.5" cy="604.9" r="2.45" fill="#00ff00"/>
<circle cx="709.5" cy="604.1" r="2.45" fill="#00ff00"/>
<circle cx="713.5" cy="604.1" r="2.45" fill="#ff0000"/>
<circle cx="717.5" cy="604.1" r="2.45" fill="#ff0000"/>
<circle cx="721.5" cy="605.2" r="2.45" fill="#ff0000"/>
<circle cx="725.5" cy="605.2" r="2.45" fill="#ff0000"/>
<circle cx="729.5" cy="606.5" r="2.45" fill="#ff0000"/>
<circle cx="733.5" cy="608.0" r="2.45" fill="#ff0000"/>
<circle cx="737.5" cy="610.1" r="2.45" fill="#ff0000"/>
<circle cx="741.5" cy="613.2" r="2.45" fill="#ff0000"/>
<circle cx="745.5" cy="617.1" r="2.45" fill="#ff0000"/>
<circle cx="749.5" cy="621.4" r="2.45" fill="#ff0000"/>
<circle cx="753.5" cy="624.4" r="2.45" fill="#ff0000"/>
<circle cx="757.5" cy="626.6" r="2.45" fill="#ff0000"/>
<circle cx="761.5" cy="627.3" r="2.45" fill="#00ff00"/>
<circle cx="765.5" cy="626.2" r="2.45" fill="#00ff00"/>
<circle cx="769.5" cy="625.1" r="2.45" fill="#00ff00"/>
<circle cx="773.5" cy="624.0" r="2.45" fill="#00ff00"/>
<circle cx="777.5" cy="623.2" r="2.45" fill="#00ff00"/>
<circle cx="781.5" cy="622.1" r="2.45" fill="#00ff00"/>
<circle cx="785.5" cy="622.1" r="2.45" fill="#ff0000"/>
<circle cx="789.5" cy="622.5" r="2.45" fill="#ff0000"/>
<circle cx="793.5" cy="623.2" r="2.45" fill="#ff0000"/>
<circle cx="797.5" cy="623.5" r="2.45" fill="#ff0000"/>
<circle cx="801.5" cy="624.3" r="2.45" fill="#ff0000"/>
<circle cx="805.5" cy="624.3" r="2.45" fill="#00ff00"/>
<circle cx="809.5" cy="623.2" r="2.45" fill="#00ff00"/>
<circle cx="813.5" cy="621.0" r="2.45" fill="#00ff00"/>
<circle cx="817.5" cy="618.1" r="2.45" fill="#00ff00"/>
<circle cx="821.5" cy="616.1" r="2.45" fill="#00ff00"/>
<text x="1.5" y="687" fill="#000" style="font-family:'Liberation Sans',Arial,sans-serif;font-size:11px" stroke="#000" stroke-width="0.3" textLength="148.5" lengthAdjust="spacingAndGlyphs">RSI (Close,14,30,70,Cyan,Red)</text>
<text x="159" y="687" fill="#000" style="font-family:'Liberation Sans',Arial,sans-serif;font-size:11px" stroke="#000" stroke-width="0.3" textLength="25.5" lengthAdjust="spacingAndGlyphs">61.61</text>
<text x="193" y="687" fill="#008000" style="font-family:'Liberation Sans',Arial,sans-serif;font-size:11px" textLength="25.5" lengthAdjust="spacingAndGlyphs">70.00</text>
<text x="225.5" y="687" fill="#008000" style="font-family:'Liberation Sans',Arial,sans-serif;font-size:11px" textLength="25.8" lengthAdjust="spacingAndGlyphs">30.00</text>
<rect x="1" y="702" width="821" height="1" fill="#008000"/>
<rect x="1" y="719" width="821" height="1" fill="#008000"/>
<polyline points="1.2,705.3 14.0,705.3 18.0,707.3 20.3,706.4 23.4,707.6 25.8,709.2 30.5,709.5 32.8,710.4 36.0,709.2 41.4,709.5 45.3,712.3 48.4,708.9 51.6,707.3 57.8,707.3 61.7,709.5 65.6,713.1 68.8,711.5 73.4,711.5 77.3,709.5 81.2,710.0 85.6,715.4 89.0,714.3 93.8,714.3 97.7,718.6 106.2,718.6 112.5,715.4 121.9,715.4 124.2,714.3 130.0,714.3 132.9,714.9 134.4,715.7 136.3,720.1 139.8,721.6 142.2,722.4 143.7,721.6 149.5,721.1 152.5,719.4 155.4,718.6 162.2,718.6 165.6,720.4 167.6,718.5 171.0,716.5 174.9,716.5 176.9,717.2 181.8,717.5 185.2,719.8 190.5,720.6 193.5,721.4 196.4,720.6 204.2,720.8 205.7,721.4 208.1,718.6 209.6,717.2 212.0,717.5 215.9,719.1 220.8,719.4 225.2,710.1 230.0,709.4 230.3,709.5 234.2,710.4 236.6,709.5 241.2,710.4 245.2,709.2 249.0,707.3 255.3,707.3 261.6,709.2 264.0,708.5 267.9,708.5 269.1,709.5 272.6,702.6 273.8,701.4 275.7,700.2 279.6,700.2 280.8,701.4 283.5,701.4 284.7,702.2 289.0,702.2 291.0,701.4 292.5,700.2 295.6,700.2 296.8,701.4 299.5,701.4 301.1,702.2 303.8,702.4 305.4,703.4 307.4,702.4 309.3,702.2 315.6,702.2 317.1,703.5 318.7,702.4 321.0,701.4 322.2,701.4 324.2,702.4 325.7,703.2 328.0,704.2 335.1,704.2 336.7,705.3 339.8,705.3 341.0,706.5 344.0,703.8 345.8,702.6 352.8,703.2 357.5,706.4 365.3,706.4 369.2,704.5 373.9,706.4 377.0,705.3 381.7,705.3 385.3,703.2 388.8,704.8 393.4,709.2 399.7,706.4 403.6,706.8 409.0,708.4 413.0,706.4 416.9,709.2 421.6,711.5 427.8,712.0 432.5,713.1 437.2,714.7 442.7,708.4 445.0,707.3 454.4,707.3 457.5,706.4 461.4,707.3 465.3,714.2 470.8,714.7 473.9,715.4 480.0,715.4 483.1,713.9 489.4,709.2 492.5,710.4 497.2,710.4 500.3,709.2 505.0,712.0 511.2,715.1 517.5,718.2 520.6,716.7 526.9,716.2 530.0,717.3 533.9,716.2 537.8,713.6 542.5,713.1 551.9,713.6 556.6,714.7 562.0,711.5 565.9,712.3 569.4,715.4 573.0,713.1 581.6,713.1 585.0,711.5 589.4,714.7 593.3,715.8 597.2,714.7 602.7,714.7 605.8,716.7 609.7,707.3 611.2,706.4 618.3,706.1 620.6,705.3 626.1,705.3 629.2,704.2 631.6,704.2 637.0,707.9 645.5,707.9 649.4,706.1 654.8,704.8 660.0,704.2 663.1,703.8 671.7,703.2 672.5,704.2 677.6,704.2 680.3,702.4 685.0,702.4 687.0,701.4 699.0,701.4 700.6,700.4 703.8,699.3 706.9,699.3 710.0,701.4 711.6,700.4 721.7,700.4 723.7,701.7 724.8,702.6 728.8,710.0 731.9,711.6 733.4,712.4 738.0,712.4 740.0,710.8 743.5,711.6 744.8,712.3 747.9,712.6 749.2,713.3 753.2,707.4 762.8,707.4 764.2,706.5 770.8,706.5 772.1,705.2 774.7,705.2 777.8,707.4 779.5,706.5 783.1,706.5 785.7,708.2 790.1,708.2 793.6,711.4 797.6,711.4 801.1,700.6 803.3,700.3 805.5,701.5 808.1,702.8 809.9,704.4 812.1,703.2 817.8,703.2 820.8,705.2" fill="none" stroke="#000" stroke-width="1.1" stroke-linejoin="round"/>
<polyline points="1.2,705.3 14.0,705.3 18.0,707.3 20.3,706.4 23.4,707.6 25.8,709.2 30.5,709.5 32.8,710.4 36.0,709.2 41.4,709.5 45.3,712.3 48.4,708.9 51.6,707.3 57.8,707.3 61.7,709.5 65.6,713.1 68.8,711.5 73.4,711.5 77.3,709.5 81.2,710.0 85.6,715.4 89.0,714.3 93.8,714.3 97.7,718.6 106.2,718.6 112.5,715.4 121.9,715.4 124.2,714.3 130.0,714.3 132.9,714.9 134.4,715.7 136.3,720.1 139.8,721.6 142.2,722.4 143.7,721.6 149.5,721.1 152.5,719.4 155.4,718.6 162.2,718.6 165.6,720.4 167.6,718.5 171.0,716.5 174.9,716.5 176.9,717.2 181.8,717.5 185.2,719.8 190.5,720.6 193.5,721.4 196.4,720.6 204.2,720.8 205.7,721.4 208.1,718.6 209.6,717.2 212.0,717.5 215.9,719.1 220.8,719.4 225.2,710.1 230.0,709.4 230.3,709.5 234.2,710.4 236.6,709.5 241.2,710.4 245.2,709.2 249.0,707.3 255.3,707.3 261.6,709.2 264.0,708.5 267.9,708.5 269.1,709.5 272.6,702.6 273.8,701.4 275.7,700.2 279.6,700.2 280.8,701.4 283.5,701.4 284.7,702.2 289.0,702.2 291.0,701.4 292.5,700.2 295.6,700.2 296.8,701.4 299.5,701.4 301.1,702.2 303.8,702.4 305.4,703.4 307.4,702.4 309.3,702.2 315.6,702.2 317.1,703.5 318.7,702.4 321.0,701.4 322.2,701.4 324.2,702.4 325.7,703.2 328.0,704.2 335.1,704.2 336.7,705.3 339.8,705.3 341.0,706.5 344.0,703.8 345.8,702.6 352.8,703.2 357.5,706.4 365.3,706.4 369.2,704.5 373.9,706.4 377.0,705.3 381.7,705.3 385.3,703.2 388.8,704.8 393.4,709.2 399.7,706.4 403.6,706.8 409.0,708.4 413.0,706.4 416.9,709.2 421.6,711.5 427.8,712.0 432.5,713.1 437.2,714.7 442.7,708.4 445.0,707.3 454.4,707.3 457.5,706.4 461.4,707.3 465.3,714.2 470.8,714.7 473.9,715.4 480.0,715.4 483.1,713.9 489.4,709.2 492.5,710.4 497.2,710.4 500.3,709.2 505.0,712.0 511.2,715.1 517.5,718.2 520.6,716.7 526.9,716.2 530.0,717.3 533.9,716.2 537.8,713.6 542.5,713.1 551.9,713.6 556.6,714.7 562.0,711.5 565.9,712.3 569.4,715.4 573.0,713.1 581.6,713.1 585.0,711.5 589.4,714.7 593.3,715.8 597.2,714.7 602.7,714.7 605.8,716.7 609.7,707.3 611.2,706.4 618.3,706.1 620.6,705.3 626.1,705.3 629.2,704.2 631.6,704.2 637.0,707.9 645.5,707.9 649.4,706.1 654.8,704.8 660.0,704.2 663.1,703.8 671.7,703.2 672.5,704.2 677.6,704.2 680.3,702.4 685.0,702.4 687.0,701.4 699.0,701.4 700.6,700.4 703.8,699.3 706.9,699.3 710.0,701.4 711.6,700.4 721.7,700.4 723.7,701.7 724.8,702.6 728.8,710.0 731.9,711.6 733.4,712.4 738.0,712.4 740.0,710.8 743.5,711.6 744.8,712.3 747.9,712.6 749.2,713.3 753.2,707.4 762.8,707.4 764.2,706.5 770.8,706.5 772.1,705.2 774.7,705.2 777.8,707.4 779.5,706.5 783.1,706.5 785.7,708.2 790.1,708.2 793.6,711.4 797.6,711.4 801.1,700.6 803.3,700.3 805.5,701.5 808.1,702.8 809.9,704.4 812.1,703.2 817.8,703.2 820.8,705.2" fill="none" stroke="#00e8ff" stroke-width="1.15" stroke-linejoin="round" clip-path="url(#cpcyan)"/>
<polyline points="1.2,705.3 14.0,705.3 18.0,707.3 20.3,706.4 23.4,707.6 25.8,709.2 30.5,709.5 32.8,710.4 36.0,709.2 41.4,709.5 45.3,712.3 48.4,708.9 51.6,707.3 57.8,707.3 61.7,709.5 65.6,713.1 68.8,711.5 73.4,711.5 77.3,709.5 81.2,710.0 85.6,715.4 89.0,714.3 93.8,714.3 97.7,718.6 106.2,718.6 112.5,715.4 121.9,715.4 124.2,714.3 130.0,714.3 132.9,714.9 134.4,715.7 136.3,720.1 139.8,721.6 142.2,722.4 143.7,721.6 149.5,721.1 152.5,719.4 155.4,718.6 162.2,718.6 165.6,720.4 167.6,718.5 171.0,716.5 174.9,716.5 176.9,717.2 181.8,717.5 185.2,719.8 190.5,720.6 193.5,721.4 196.4,720.6 204.2,720.8 205.7,721.4 208.1,718.6 209.6,717.2 212.0,717.5 215.9,719.1 220.8,719.4 225.2,710.1 230.0,709.4 230.3,709.5 234.2,710.4 236.6,709.5 241.2,710.4 245.2,709.2 249.0,707.3 255.3,707.3 261.6,709.2 264.0,708.5 267.9,708.5 269.1,709.5 272.6,702.6 273.8,701.4 275.7,700.2 279.6,700.2 280.8,701.4 283.5,701.4 284.7,702.2 289.0,702.2 291.0,701.4 292.5,700.2 295.6,700.2 296.8,701.4 299.5,701.4 301.1,702.2 303.8,702.4 305.4,703.4 307.4,702.4 309.3,702.2 315.6,702.2 317.1,703.5 318.7,702.4 321.0,701.4 322.2,701.4 324.2,702.4 325.7,703.2 328.0,704.2 335.1,704.2 336.7,705.3 339.8,705.3 341.0,706.5 344.0,703.8 345.8,702.6 352.8,703.2 357.5,706.4 365.3,706.4 369.2,704.5 373.9,706.4 377.0,705.3 381.7,705.3 385.3,703.2 388.8,704.8 393.4,709.2 399.7,706.4 403.6,706.8 409.0,708.4 413.0,706.4 416.9,709.2 421.6,711.5 427.8,712.0 432.5,713.1 437.2,714.7 442.7,708.4 445.0,707.3 454.4,707.3 457.5,706.4 461.4,707.3 465.3,714.2 470.8,714.7 473.9,715.4 480.0,715.4 483.1,713.9 489.4,709.2 492.5,710.4 497.2,710.4 500.3,709.2 505.0,712.0 511.2,715.1 517.5,718.2 520.6,716.7 526.9,716.2 530.0,717.3 533.9,716.2 537.8,713.6 542.5,713.1 551.9,713.6 556.6,714.7 562.0,711.5 565.9,712.3 569.4,715.4 573.0,713.1 581.6,713.1 585.0,711.5 589.4,714.7 593.3,715.8 597.2,714.7 602.7,714.7 605.8,716.7 609.7,707.3 611.2,706.4 618.3,706.1 620.6,705.3 626.1,705.3 629.2,704.2 631.6,704.2 637.0,707.9 645.5,707.9 649.4,706.1 654.8,704.8 660.0,704.2 663.1,703.8 671.7,703.2 672.5,704.2 677.6,704.2 680.3,702.4 685.0,702.4 687.0,701.4 699.0,701.4 700.6,700.4 703.8,699.3 706.9,699.3 710.0,701.4 711.6,700.4 721.7,700.4 723.7,701.7 724.8,702.6 728.8,710.0 731.9,711.6 733.4,712.4 738.0,712.4 740.0,710.8 743.5,711.6 744.8,712.3 747.9,712.6 749.2,713.3 753.2,707.4 762.8,707.4 764.2,706.5 770.8,706.5 772.1,705.2 774.7,705.2 777.8,707.4 779.5,706.5 783.1,706.5 785.7,708.2 790.1,708.2 793.6,711.4 797.6,711.4 801.1,700.6 803.3,700.3 805.5,701.5 808.1,702.8 809.9,704.4 812.1,703.2 817.8,703.2 820.8,705.2" fill="none" stroke="#ff0000" stroke-width="1.15" stroke-linejoin="round" clip-path="url(#cpred)"/>
<text x="1.5" y="746" fill="#000" style="font-family:'Liberation Sans',Arial,sans-serif;font-size:11px" stroke="#000" stroke-width="0.3" textLength="70" lengthAdjust="spacingAndGlyphs">MM_BarNum ()</text>
<text x="82" y="746" fill="#ff0000" style="font-family:'Liberation Sans',Arial,sans-serif;font-size:11px" textLength="37.5" lengthAdjust="spacingAndGlyphs">1047.00</text>
<rect x="17" y="748" width="1" height="4" fill="#ff0000"/>
<text x="17.5" y="761" fill="#000" style="font-family:'Liberation Sans',Arial,sans-serif;font-size:11px" stroke="#000" stroke-width="0.3" text-anchor="middle">11/14</text>
<rect x="41" y="748" width="1" height="4" fill="#ff0000"/>
<rect x="65" y="748" width="1" height="4" fill="#ff0000"/>
<text x="65.5" y="761" fill="#000" style="font-family:'Liberation Sans',Arial,sans-serif;font-size:11px" stroke="#000" stroke-width="0.3" text-anchor="middle">11/16</text>
<rect x="89" y="748" width="1" height="4" fill="#ff0000"/>
<rect x="113" y="748" width="1" height="4" fill="#ff0000"/>
<text x="113.5" y="761" fill="#000" style="font-family:'Liberation Sans',Arial,sans-serif;font-size:11px" stroke="#000" stroke-width="0.3" text-anchor="middle">11/18</text>
<rect x="137" y="748" width="1" height="4" fill="#ff0000"/>
<rect x="161" y="748" width="1" height="4" fill="#ff0000"/>
<text x="161.5" y="761" fill="#000" style="font-family:'Liberation Sans',Arial,sans-serif;font-size:11px" stroke="#000" stroke-width="0.3" text-anchor="middle">11/22</text>
<rect x="185" y="748" width="1" height="4" fill="#ff0000"/>
<rect x="209" y="748" width="1" height="4" fill="#ff0000"/>
<text x="209.5" y="761" fill="#000" style="font-family:'Liberation Sans',Arial,sans-serif;font-size:11px" stroke="#000" stroke-width="0.3" text-anchor="middle">11/25</text>
<rect x="249" y="748" width="1" height="4" fill="#ff0000"/>
<text x="249.5" y="761" fill="#000" style="font-family:'Liberation Sans',Arial,sans-serif;font-size:11px" stroke="#000" stroke-width="0.3" text-anchor="middle">11/29</text>
<rect x="273" y="748" width="1" height="4" fill="#ff0000"/>
<rect x="297" y="748" width="1" height="4" fill="#ff0000"/>
<text x="297.5" y="761" fill="#000" style="font-family:'Liberation Sans',Arial,sans-serif;font-size:11px" stroke="#000" stroke-width="0.3" text-anchor="middle">Dec</text>
<rect x="321" y="748" width="1" height="4" fill="#ff0000"/>
<text x="321.5" y="761" fill="#000" style="font-family:'Liberation Sans',Arial,sans-serif;font-size:11px" stroke="#000" stroke-width="0.3" text-anchor="middle">12/2</text>
<rect x="345" y="748" width="1" height="4" fill="#ff0000"/>
<rect x="369" y="748" width="1" height="4" fill="#ff0000"/>
<text x="369.5" y="761" fill="#000" style="font-family:'Liberation Sans',Arial,sans-serif;font-size:11px" stroke="#000" stroke-width="0.3" text-anchor="middle">12/6</text>
<rect x="393" y="748" width="1" height="4" fill="#ff0000"/>
<rect x="417" y="748" width="1" height="4" fill="#ff0000"/>
<text x="417.5" y="761" fill="#000" style="font-family:'Liberation Sans',Arial,sans-serif;font-size:11px" stroke="#000" stroke-width="0.3" text-anchor="middle">12/8</text>
<rect x="441" y="748" width="1" height="4" fill="#ff0000"/>
<rect x="465" y="748" width="1" height="4" fill="#ff0000"/>
<text x="465.5" y="761" fill="#000" style="font-family:'Liberation Sans',Arial,sans-serif;font-size:11px" stroke="#000" stroke-width="0.3" text-anchor="middle">12/12</text>
<rect x="489" y="748" width="1" height="4" fill="#ff0000"/>
<rect x="513" y="748" width="1" height="4" fill="#ff0000"/>
<text x="513.5" y="761" fill="#000" style="font-family:'Liberation Sans',Arial,sans-serif;font-size:11px" stroke="#000" stroke-width="0.3" text-anchor="middle">12/14</text>
<rect x="537" y="748" width="1" height="4" fill="#ff0000"/>
<rect x="561" y="748" width="1" height="4" fill="#ff0000"/>
<text x="561.5" y="761" fill="#000" style="font-family:'Liberation Sans',Arial,sans-serif;font-size:11px" stroke="#000" stroke-width="0.3" text-anchor="middle">12/16</text>
<rect x="585" y="748" width="1" height="4" fill="#ff0000"/>
<rect x="609" y="748" width="1" height="4" fill="#ff0000"/>
<text x="609.5" y="761" fill="#000" style="font-family:'Liberation Sans',Arial,sans-serif;font-size:11px" stroke="#000" stroke-width="0.3" text-anchor="middle">12/20</text>
<rect x="633" y="748" width="1" height="4" fill="#ff0000"/>
<rect x="657" y="748" width="1" height="4" fill="#ff0000"/>
<text x="657.5" y="761" fill="#000" style="font-family:'Liberation Sans',Arial,sans-serif;font-size:11px" stroke="#000" stroke-width="0.3" text-anchor="middle">12/22</text>
<rect x="681" y="748" width="1" height="4" fill="#ff0000"/>
<rect x="705" y="748" width="1" height="4" fill="#ff0000"/>
<text x="705.5" y="761" fill="#000" style="font-family:'Liberation Sans',Arial,sans-serif;font-size:11px" stroke="#000" stroke-width="0.3" text-anchor="middle">12/27</text>
<rect x="729" y="748" width="1" height="4" fill="#ff0000"/>
<rect x="753" y="748" width="1" height="4" fill="#ff0000"/>
<text x="753.5" y="761" fill="#000" style="font-family:'Liberation Sans',Arial,sans-serif;font-size:11px" stroke="#000" stroke-width="0.3" text-anchor="middle">12/29</text>
<rect x="777" y="748" width="1" height="4" fill="#ff0000"/>
<rect x="801" y="748" width="1" height="4" fill="#ff0000"/>
<text x="801.5" y="761" fill="#000" style="font-family:'Liberation Sans',Arial,sans-serif;font-size:11px" stroke="#000" stroke-width="0.3" text-anchor="middle">'12</text>
<rect x="825" y="748" width="1" height="4" fill="#ff0000"/>
<text x="825.5" y="761" fill="#000" style="font-family:'Liberation Sans',Arial,sans-serif;font-size:11px" stroke="#000" stroke-width="0.3" text-anchor="middle">1/4</text>
<rect x="849" y="748" width="1" height="4" fill="#ff0000"/>
<text x="849.5" y="761" fill="#000" style="font-family:'Liberation Sans',Arial,sans-serif;font-size:11px" stroke="#000" stroke-width="0.3" text-anchor="middle">1/5</text>
<rect x="873" y="748" width="1" height="4" fill="#ff0000"/>
<text x="873.5" y="761" fill="#000" style="font-family:'Liberation Sans',Arial,sans-serif;font-size:11px" stroke="#000" stroke-width="0.3" text-anchor="middle">1/6</text>
<rect x="897" y="748" width="1" height="4" fill="#ff0000"/>
<text x="897.5" y="761" fill="#000" style="font-family:'Liberation Sans',Arial,sans-serif;font-size:11px" stroke="#000" stroke-width="0.3" text-anchor="middle">1/9</text>
<rect x="921" y="748" width="1" height="4" fill="#ff0000"/>
<text x="921.5" y="761" fill="#000" style="font-family:'Liberation Sans',Arial,sans-serif;font-size:11px" stroke="#000" stroke-width="0.3" text-anchor="middle">1/10</text>
<rect x="945" y="748" width="1" height="4" fill="#ff0000"/>
</svg>
</body></html>
